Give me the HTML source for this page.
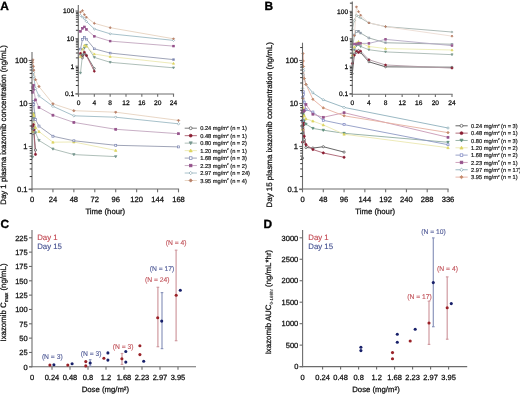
<!DOCTYPE html>
<html><head><meta charset="utf-8"><style>
html,body{margin:0;padding:0;background:#fff;width:520px;height:394px;overflow:hidden}
svg{display:block;filter:blur(0.5px)}
text{font-family:"Liberation Sans", sans-serif;text-rendering:geometricPrecision}
</style></head><body>
<svg width="520" height="394" viewBox="0 0 520 394">
<rect width="520" height="394" fill="#fff"/>
<text x="0.3" y="9.6" font-size="11.9" font-weight="bold" fill="#000" stroke="#000" stroke-width="0.35">A</text>
<text x="264.6" y="9.9" font-size="11.9" font-weight="bold" fill="#000" stroke="#000" stroke-width="0.35">B</text>
<text x="0.6" y="228.1" font-size="11.9" font-weight="bold" fill="#000" stroke="#000" stroke-width="0.35">C</text>
<text x="263.6" y="228.1" font-size="11.9" font-weight="bold" fill="#000" stroke="#000" stroke-width="0.35">D</text>
<path d="M32.44 128.44 L32.87 133.60 L33.31 127.15 L33.74 129.30 L35.49 150.07" fill="none" stroke="#707070" stroke-width="0.9" stroke-linejoin="round"/>
<path d="M32.44 126.42 L32.87 129.69 L33.31 124.70 L33.74 129.99 L35.49 154.41" fill="none" stroke="#aa6070" stroke-width="0.9" stroke-linejoin="round"/>
<path d="M32.44 157.25 L32.87 129.30 L33.31 118.12 L33.74 113.78 L35.49 132.78 L38.98 140.44 L52.93 148.99 L73.86 154.58 L115.71 156.60" fill="none" stroke="#a6b8b1" stroke-width="0.9" stroke-linejoin="round"/>
<path d="M32.44 131.45 L32.87 119.84 L33.31 113.82 L33.74 115.54 L35.49 127.49 L38.98 131.54 L52.93 142.20 L73.86 141.99 L115.71 150.41" fill="none" stroke="#ebe8b0" stroke-width="0.9" stroke-linejoin="round"/>
<path d="M32.44 119.84 L32.87 104.79 L33.31 101.35 L33.74 104.36 L35.49 119.41 L38.98 126.08 L52.93 136.22 L73.86 140.78 L115.71 145.30 L178.50 146.89" fill="none" stroke="#959bb0" stroke-width="0.9" stroke-linejoin="round"/>
<path d="M32.44 92.28 L32.87 87.59 L33.31 85.27 L33.74 89.18 L35.49 99.93 L38.98 107.41 L52.93 115.20 L73.86 122.42 L115.71 129.30 L178.50 133.69" fill="none" stroke="#c2a6be" stroke-width="0.9" stroke-linejoin="round"/>
<path d="M32.44 67.38 L32.87 69.96 L33.31 72.54 L33.74 76.84 L35.49 88.45 L38.98 96.02 L52.93 106.29 L73.86 115.80 L115.71 117.22 L178.50 123.80" fill="none" stroke="#9dbac4" stroke-width="0.9" stroke-linejoin="round"/>
<path d="M32.44 62.35 L32.87 59.90 L33.31 66.26 L33.74 70.17 L35.49 79.68 L38.98 86.52 L52.93 103.80 L73.86 110.68 L115.71 112.19 L178.50 120.40" fill="none" stroke="#e6d2c0" stroke-width="0.9" stroke-linejoin="round"/>
<circle cx="32.44" cy="128.44" r="1.10" fill="#fff" stroke="#4a4a4a" stroke-width="0.7"/>
<circle cx="32.87" cy="133.60" r="1.10" fill="#fff" stroke="#4a4a4a" stroke-width="0.7"/>
<circle cx="33.31" cy="127.15" r="1.10" fill="#fff" stroke="#4a4a4a" stroke-width="0.7"/>
<circle cx="33.74" cy="129.30" r="1.10" fill="#fff" stroke="#4a4a4a" stroke-width="0.7"/>
<circle cx="35.49" cy="150.07" r="1.10" fill="#fff" stroke="#4a4a4a" stroke-width="0.7"/>
<circle cx="32.44" cy="126.42" r="1.10" fill="#8a1c30" stroke="#8a1c30" stroke-width="0.7"/>
<circle cx="32.87" cy="129.69" r="1.10" fill="#8a1c30" stroke="#8a1c30" stroke-width="0.7"/>
<circle cx="33.31" cy="124.70" r="1.10" fill="#8a1c30" stroke="#8a1c30" stroke-width="0.7"/>
<circle cx="33.74" cy="129.99" r="1.10" fill="#8a1c30" stroke="#8a1c30" stroke-width="0.7"/>
<circle cx="35.49" cy="154.41" r="1.10" fill="#8a1c30" stroke="#8a1c30" stroke-width="0.7"/>
<path d="M32.44 158.46L33.65 156.28L31.23 156.28Z" fill="#76968e" stroke="#76968e" stroke-width="0.7"/>
<path d="M32.87 130.51L34.08 128.33L31.66 128.33Z" fill="#76968e" stroke="#76968e" stroke-width="0.7"/>
<path d="M33.31 119.33L34.52 117.15L32.10 117.15Z" fill="#76968e" stroke="#76968e" stroke-width="0.7"/>
<path d="M33.74 114.99L34.95 112.81L32.53 112.81Z" fill="#76968e" stroke="#76968e" stroke-width="0.7"/>
<path d="M35.49 133.99L36.70 131.81L34.28 131.81Z" fill="#76968e" stroke="#76968e" stroke-width="0.7"/>
<path d="M38.98 141.65L40.19 139.47L37.77 139.47Z" fill="#76968e" stroke="#76968e" stroke-width="0.7"/>
<path d="M52.93 150.20L54.14 148.03L51.72 148.03Z" fill="#76968e" stroke="#76968e" stroke-width="0.7"/>
<path d="M73.86 155.79L75.07 153.62L72.65 153.62Z" fill="#76968e" stroke="#76968e" stroke-width="0.7"/>
<path d="M115.71 157.81L116.92 155.64L114.50 155.64Z" fill="#76968e" stroke="#76968e" stroke-width="0.7"/>
<path d="M32.44 130.24L33.65 132.42L31.23 132.42Z" fill="#dcd460" stroke="#dcd460" stroke-width="0.7"/>
<path d="M32.87 118.63L34.08 120.81L31.66 120.81Z" fill="#dcd460" stroke="#dcd460" stroke-width="0.7"/>
<path d="M33.31 112.61L34.52 114.79L32.10 114.79Z" fill="#dcd460" stroke="#dcd460" stroke-width="0.7"/>
<path d="M33.74 114.33L34.95 116.51L32.53 116.51Z" fill="#dcd460" stroke="#dcd460" stroke-width="0.7"/>
<path d="M35.49 126.28L36.70 128.46L34.28 128.46Z" fill="#dcd460" stroke="#dcd460" stroke-width="0.7"/>
<path d="M38.98 130.33L40.19 132.50L37.77 132.50Z" fill="#dcd460" stroke="#dcd460" stroke-width="0.7"/>
<path d="M52.93 140.99L54.14 143.17L51.72 143.17Z" fill="#dcd460" stroke="#dcd460" stroke-width="0.7"/>
<path d="M73.86 140.78L75.07 142.95L72.65 142.95Z" fill="#dcd460" stroke="#dcd460" stroke-width="0.7"/>
<path d="M115.71 149.20L116.92 151.38L114.50 151.38Z" fill="#dcd460" stroke="#dcd460" stroke-width="0.7"/>
<rect x="31.45" y="118.85" width="1.98" height="1.98" fill="#fff" stroke="#7a84b0" stroke-width="0.7"/>
<rect x="31.88" y="103.80" width="1.98" height="1.98" fill="#fff" stroke="#7a84b0" stroke-width="0.7"/>
<rect x="32.32" y="100.36" width="1.98" height="1.98" fill="#fff" stroke="#7a84b0" stroke-width="0.7"/>
<rect x="32.75" y="103.37" width="1.98" height="1.98" fill="#fff" stroke="#7a84b0" stroke-width="0.7"/>
<rect x="34.50" y="118.42" width="1.98" height="1.98" fill="#fff" stroke="#7a84b0" stroke-width="0.7"/>
<rect x="37.99" y="125.09" width="1.98" height="1.98" fill="#fff" stroke="#7a84b0" stroke-width="0.7"/>
<rect x="51.94" y="135.23" width="1.98" height="1.98" fill="#fff" stroke="#7a84b0" stroke-width="0.7"/>
<rect x="72.87" y="139.79" width="1.98" height="1.98" fill="#fff" stroke="#7a84b0" stroke-width="0.7"/>
<rect x="114.72" y="144.31" width="1.98" height="1.98" fill="#fff" stroke="#7a84b0" stroke-width="0.7"/>
<rect x="177.51" y="145.90" width="1.98" height="1.98" fill="#fff" stroke="#7a84b0" stroke-width="0.7"/>
<rect x="31.45" y="91.29" width="1.98" height="1.98" fill="#94508a" stroke="#94508a" stroke-width="0.7"/>
<rect x="31.88" y="86.60" width="1.98" height="1.98" fill="#94508a" stroke="#94508a" stroke-width="0.7"/>
<rect x="32.32" y="84.28" width="1.98" height="1.98" fill="#94508a" stroke="#94508a" stroke-width="0.7"/>
<rect x="32.75" y="88.19" width="1.98" height="1.98" fill="#94508a" stroke="#94508a" stroke-width="0.7"/>
<rect x="34.50" y="98.94" width="1.98" height="1.98" fill="#94508a" stroke="#94508a" stroke-width="0.7"/>
<rect x="37.99" y="106.42" width="1.98" height="1.98" fill="#94508a" stroke="#94508a" stroke-width="0.7"/>
<rect x="51.94" y="114.21" width="1.98" height="1.98" fill="#94508a" stroke="#94508a" stroke-width="0.7"/>
<rect x="72.87" y="121.43" width="1.98" height="1.98" fill="#94508a" stroke="#94508a" stroke-width="0.7"/>
<rect x="114.72" y="128.31" width="1.98" height="1.98" fill="#94508a" stroke="#94508a" stroke-width="0.7"/>
<rect x="177.51" y="132.70" width="1.98" height="1.98" fill="#94508a" stroke="#94508a" stroke-width="0.7"/>
<path d="M32.44 66.11L33.70 67.38L32.44 68.64L31.17 67.38Z" fill="#fff" stroke="#88a6b0" stroke-width="0.7"/>
<path d="M32.87 68.69L34.14 69.96L32.87 71.22L31.61 69.96Z" fill="#fff" stroke="#88a6b0" stroke-width="0.7"/>
<path d="M33.31 71.28L34.57 72.54L33.31 73.81L32.04 72.54Z" fill="#fff" stroke="#88a6b0" stroke-width="0.7"/>
<path d="M33.74 75.57L35.01 76.84L33.74 78.10L32.48 76.84Z" fill="#fff" stroke="#88a6b0" stroke-width="0.7"/>
<path d="M35.49 87.18L36.75 88.45L35.49 89.71L34.22 88.45Z" fill="#fff" stroke="#88a6b0" stroke-width="0.7"/>
<path d="M38.98 94.75L40.24 96.02L38.98 97.28L37.71 96.02Z" fill="#fff" stroke="#88a6b0" stroke-width="0.7"/>
<path d="M52.93 105.03L54.19 106.29L52.93 107.56L51.66 106.29Z" fill="#fff" stroke="#88a6b0" stroke-width="0.7"/>
<path d="M73.86 114.53L75.12 115.80L73.86 117.06L72.59 115.80Z" fill="#fff" stroke="#88a6b0" stroke-width="0.7"/>
<path d="M115.71 115.95L116.98 117.22L115.71 118.48L114.45 117.22Z" fill="#fff" stroke="#88a6b0" stroke-width="0.7"/>
<path d="M178.50 122.53L179.76 123.80L178.50 125.06L177.24 123.80Z" fill="#fff" stroke="#88a6b0" stroke-width="0.7"/>
<path d="M32.44 61.08L33.70 62.35L32.44 63.61L31.17 62.35Z" fill="#b88068" stroke="#b88068" stroke-width="0.7"/>
<path d="M32.87 58.63L34.14 59.90L32.87 61.16L31.61 59.90Z" fill="#b88068" stroke="#b88068" stroke-width="0.7"/>
<path d="M33.31 65.00L34.57 66.26L33.31 67.53L32.04 66.26Z" fill="#b88068" stroke="#b88068" stroke-width="0.7"/>
<path d="M33.74 68.91L35.01 70.17L33.74 71.44L32.48 70.17Z" fill="#b88068" stroke="#b88068" stroke-width="0.7"/>
<path d="M35.49 78.41L36.75 79.68L35.49 80.94L34.22 79.68Z" fill="#b88068" stroke="#b88068" stroke-width="0.7"/>
<path d="M38.98 85.25L40.24 86.52L38.98 87.78L37.71 86.52Z" fill="#b88068" stroke="#b88068" stroke-width="0.7"/>
<path d="M52.93 102.54L54.19 103.80L52.93 105.07L51.66 103.80Z" fill="#b88068" stroke="#b88068" stroke-width="0.7"/>
<path d="M73.86 109.42L75.12 110.68L73.86 111.95L72.59 110.68Z" fill="#b88068" stroke="#b88068" stroke-width="0.7"/>
<path d="M115.71 110.92L116.98 112.19L115.71 113.45L114.45 112.19Z" fill="#b88068" stroke="#b88068" stroke-width="0.7"/>
<path d="M178.50 119.13L179.76 120.40L178.50 121.66L177.24 120.40Z" fill="#b88068" stroke="#b88068" stroke-width="0.7"/>
<line x1="32.00" y1="52.00" x2="32.00" y2="189.55" stroke="#6c6c6c" stroke-width="1.1"/>
<line x1="28.70" y1="189.00" x2="179.10" y2="189.00" stroke="#6c6c6c" stroke-width="1.1"/>
<line x1="28.70" y1="189.50" x2="32.00" y2="189.50" stroke="#6c6c6c" stroke-width="1.1"/>
<text x="27.60" y="192.24" font-size="7.6" text-anchor="end" fill="#111" font-weight="normal" stroke="#111" stroke-width="0.26" >0.1</text>
<line x1="29.70" y1="176.56" x2="32.00" y2="176.56" stroke="#3a3a3a" stroke-width="1.0"/>
<line x1="29.70" y1="168.98" x2="32.00" y2="168.98" stroke="#3a3a3a" stroke-width="1.0"/>
<line x1="29.70" y1="163.61" x2="32.00" y2="163.61" stroke="#3a3a3a" stroke-width="1.0"/>
<line x1="29.70" y1="159.44" x2="32.00" y2="159.44" stroke="#3a3a3a" stroke-width="1.0"/>
<line x1="29.70" y1="156.04" x2="32.00" y2="156.04" stroke="#3a3a3a" stroke-width="1.0"/>
<line x1="29.70" y1="153.16" x2="32.00" y2="153.16" stroke="#3a3a3a" stroke-width="1.0"/>
<line x1="29.70" y1="150.67" x2="32.00" y2="150.67" stroke="#3a3a3a" stroke-width="1.0"/>
<line x1="29.70" y1="148.47" x2="32.00" y2="148.47" stroke="#3a3a3a" stroke-width="1.0"/>
<line x1="28.70" y1="146.50" x2="32.00" y2="146.50" stroke="#6c6c6c" stroke-width="1.1"/>
<text x="27.60" y="149.24" font-size="7.6" text-anchor="end" fill="#111" font-weight="normal" stroke="#111" stroke-width="0.26" >1</text>
<line x1="29.70" y1="133.56" x2="32.00" y2="133.56" stroke="#3a3a3a" stroke-width="1.0"/>
<line x1="29.70" y1="125.98" x2="32.00" y2="125.98" stroke="#3a3a3a" stroke-width="1.0"/>
<line x1="29.70" y1="120.61" x2="32.00" y2="120.61" stroke="#3a3a3a" stroke-width="1.0"/>
<line x1="29.70" y1="116.44" x2="32.00" y2="116.44" stroke="#3a3a3a" stroke-width="1.0"/>
<line x1="29.70" y1="113.04" x2="32.00" y2="113.04" stroke="#3a3a3a" stroke-width="1.0"/>
<line x1="29.70" y1="110.16" x2="32.00" y2="110.16" stroke="#3a3a3a" stroke-width="1.0"/>
<line x1="29.70" y1="107.67" x2="32.00" y2="107.67" stroke="#3a3a3a" stroke-width="1.0"/>
<line x1="29.70" y1="105.47" x2="32.00" y2="105.47" stroke="#3a3a3a" stroke-width="1.0"/>
<line x1="28.70" y1="103.50" x2="32.00" y2="103.50" stroke="#6c6c6c" stroke-width="1.1"/>
<text x="27.60" y="106.24" font-size="7.6" text-anchor="end" fill="#111" font-weight="normal" stroke="#111" stroke-width="0.26" >10</text>
<line x1="29.70" y1="90.56" x2="32.00" y2="90.56" stroke="#3a3a3a" stroke-width="1.0"/>
<line x1="29.70" y1="82.98" x2="32.00" y2="82.98" stroke="#3a3a3a" stroke-width="1.0"/>
<line x1="29.70" y1="77.61" x2="32.00" y2="77.61" stroke="#3a3a3a" stroke-width="1.0"/>
<line x1="29.70" y1="73.44" x2="32.00" y2="73.44" stroke="#3a3a3a" stroke-width="1.0"/>
<line x1="29.70" y1="70.04" x2="32.00" y2="70.04" stroke="#3a3a3a" stroke-width="1.0"/>
<line x1="29.70" y1="67.16" x2="32.00" y2="67.16" stroke="#3a3a3a" stroke-width="1.0"/>
<line x1="29.70" y1="64.67" x2="32.00" y2="64.67" stroke="#3a3a3a" stroke-width="1.0"/>
<line x1="29.70" y1="62.47" x2="32.00" y2="62.47" stroke="#3a3a3a" stroke-width="1.0"/>
<line x1="28.70" y1="60.50" x2="32.00" y2="60.50" stroke="#6c6c6c" stroke-width="1.1"/>
<text x="27.60" y="63.24" font-size="7.6" text-anchor="end" fill="#111" font-weight="normal" stroke="#111" stroke-width="0.26" >100</text>
<line x1="32.00" y1="189.00" x2="32.00" y2="192.30" stroke="#6c6c6c" stroke-width="1.1"/>
<text x="32.00" y="201.70" font-size="7.6" text-anchor="middle" fill="#111" font-weight="normal" stroke="#111" stroke-width="0.26" >0</text>
<line x1="52.93" y1="189.00" x2="52.93" y2="192.30" stroke="#6c6c6c" stroke-width="1.1"/>
<text x="52.93" y="201.70" font-size="7.6" text-anchor="middle" fill="#111" font-weight="normal" stroke="#111" stroke-width="0.26" >24</text>
<line x1="73.86" y1="189.00" x2="73.86" y2="192.30" stroke="#6c6c6c" stroke-width="1.1"/>
<text x="73.86" y="201.70" font-size="7.6" text-anchor="middle" fill="#111" font-weight="normal" stroke="#111" stroke-width="0.26" >48</text>
<line x1="94.79" y1="189.00" x2="94.79" y2="192.30" stroke="#6c6c6c" stroke-width="1.1"/>
<text x="94.79" y="201.70" font-size="7.6" text-anchor="middle" fill="#111" font-weight="normal" stroke="#111" stroke-width="0.26" >72</text>
<line x1="115.71" y1="189.00" x2="115.71" y2="192.30" stroke="#6c6c6c" stroke-width="1.1"/>
<text x="115.71" y="201.70" font-size="7.6" text-anchor="middle" fill="#111" font-weight="normal" stroke="#111" stroke-width="0.26" >96</text>
<line x1="136.64" y1="189.00" x2="136.64" y2="192.30" stroke="#6c6c6c" stroke-width="1.1"/>
<text x="136.64" y="201.70" font-size="7.6" text-anchor="middle" fill="#111" font-weight="normal" stroke="#111" stroke-width="0.26" >120</text>
<line x1="157.57" y1="189.00" x2="157.57" y2="192.30" stroke="#6c6c6c" stroke-width="1.1"/>
<text x="157.57" y="201.70" font-size="7.6" text-anchor="middle" fill="#111" font-weight="normal" stroke="#111" stroke-width="0.26" >144</text>
<line x1="178.50" y1="189.00" x2="178.50" y2="192.30" stroke="#6c6c6c" stroke-width="1.1"/>
<text x="178.50" y="201.70" font-size="7.6" text-anchor="middle" fill="#111" font-weight="normal" stroke="#111" stroke-width="0.26" >168</text>
<text x="105.30" y="214.00" font-size="7.75" text-anchor="middle" fill="#111" font-weight="normal" stroke="#111" stroke-width="0.26" >Time (hour)</text>
<text x="0.00" y="0.00" font-size="7.85" text-anchor="middle" fill="#111" font-weight="normal" stroke="#111" stroke-width="0.26" transform="translate(6.2,125) rotate(-90)">Day 1 plasma ixazomib concentration (ng/mL)</text>
<rect x="79" y="4" width="96" height="89.5" fill="#fff"/>
<path d="M80.48 54.61 L82.46 57.92 L84.44 53.78 L86.42 55.16 L94.33 68.49" fill="none" stroke="#707070" stroke-width="0.9" stroke-linejoin="round"/>
<path d="M80.48 53.31 L82.46 55.41 L84.44 52.21 L86.42 55.60 L94.33 71.28" fill="none" stroke="#aa6070" stroke-width="0.9" stroke-linejoin="round"/>
<path d="M80.48 73.10 L82.46 55.16 L84.44 47.98 L86.42 45.20 L94.33 57.40 L110.17 62.31 L173.50 67.80" fill="none" stroke="#a6b8b1" stroke-width="0.9" stroke-linejoin="round"/>
<path d="M80.48 56.54 L82.46 49.09 L84.44 45.22 L86.42 46.33 L94.33 54.00 L110.17 56.60 L173.50 63.44" fill="none" stroke="#ebe8b0" stroke-width="0.9" stroke-linejoin="round"/>
<path d="M80.48 49.09 L82.46 39.43 L84.44 37.22 L86.42 39.15 L94.33 48.81 L110.17 53.09 L173.50 59.60" fill="none" stroke="#959bb0" stroke-width="0.9" stroke-linejoin="round"/>
<path d="M80.48 31.40 L82.46 28.39 L84.44 26.90 L86.42 29.41 L94.33 36.31 L110.17 41.11 L173.50 46.11" fill="none" stroke="#c2a6be" stroke-width="0.9" stroke-linejoin="round"/>
<path d="M80.48 15.42 L82.46 17.07 L84.44 18.73 L86.42 21.49 L94.33 28.94 L110.17 33.80 L173.50 40.39" fill="none" stroke="#9dbac4" stroke-width="0.9" stroke-linejoin="round"/>
<path d="M80.48 12.19 L82.46 10.61 L84.44 14.70 L86.42 17.21 L94.33 23.31 L110.17 27.70 L173.50 38.79" fill="none" stroke="#e6d2c0" stroke-width="0.9" stroke-linejoin="round"/>
<circle cx="80.48" cy="54.61" r="0.95" fill="#fff" stroke="#4a4a4a" stroke-width="0.7"/>
<circle cx="82.46" cy="57.92" r="0.95" fill="#fff" stroke="#4a4a4a" stroke-width="0.7"/>
<circle cx="84.44" cy="53.78" r="0.95" fill="#fff" stroke="#4a4a4a" stroke-width="0.7"/>
<circle cx="86.42" cy="55.16" r="0.95" fill="#fff" stroke="#4a4a4a" stroke-width="0.7"/>
<circle cx="94.33" cy="68.49" r="0.95" fill="#fff" stroke="#4a4a4a" stroke-width="0.7"/>
<circle cx="80.48" cy="53.31" r="0.95" fill="#8a1c30" stroke="#8a1c30" stroke-width="0.7"/>
<circle cx="82.46" cy="55.41" r="0.95" fill="#8a1c30" stroke="#8a1c30" stroke-width="0.7"/>
<circle cx="84.44" cy="52.21" r="0.95" fill="#8a1c30" stroke="#8a1c30" stroke-width="0.7"/>
<circle cx="86.42" cy="55.60" r="0.95" fill="#8a1c30" stroke="#8a1c30" stroke-width="0.7"/>
<circle cx="94.33" cy="71.28" r="0.95" fill="#8a1c30" stroke="#8a1c30" stroke-width="0.7"/>
<path d="M80.48 74.14L81.52 72.26L79.43 72.26Z" fill="#76968e" stroke="#76968e" stroke-width="0.7"/>
<path d="M82.46 56.21L83.50 54.32L81.41 54.32Z" fill="#76968e" stroke="#76968e" stroke-width="0.7"/>
<path d="M84.44 49.03L85.48 47.15L83.39 47.15Z" fill="#76968e" stroke="#76968e" stroke-width="0.7"/>
<path d="M86.42 46.24L87.46 44.36L85.37 44.36Z" fill="#76968e" stroke="#76968e" stroke-width="0.7"/>
<path d="M94.33 58.44L95.38 56.56L93.29 56.56Z" fill="#76968e" stroke="#76968e" stroke-width="0.7"/>
<path d="M110.17 63.35L111.21 61.47L109.12 61.47Z" fill="#76968e" stroke="#76968e" stroke-width="0.7"/>
<path d="M173.50 68.85L174.54 66.96L172.46 66.96Z" fill="#76968e" stroke="#76968e" stroke-width="0.7"/>
<path d="M80.48 55.49L81.52 57.38L79.43 57.38Z" fill="#dcd460" stroke="#dcd460" stroke-width="0.7"/>
<path d="M82.46 48.04L83.50 49.92L81.41 49.92Z" fill="#dcd460" stroke="#dcd460" stroke-width="0.7"/>
<path d="M84.44 44.18L85.48 46.06L83.39 46.06Z" fill="#dcd460" stroke="#dcd460" stroke-width="0.7"/>
<path d="M86.42 45.28L87.46 47.16L85.37 47.16Z" fill="#dcd460" stroke="#dcd460" stroke-width="0.7"/>
<path d="M94.33 52.96L95.38 54.84L93.29 54.84Z" fill="#dcd460" stroke="#dcd460" stroke-width="0.7"/>
<path d="M110.17 55.55L111.21 57.43L109.12 57.43Z" fill="#dcd460" stroke="#dcd460" stroke-width="0.7"/>
<path d="M173.50 62.39L174.54 64.28L172.46 64.28Z" fill="#dcd460" stroke="#dcd460" stroke-width="0.7"/>
<rect x="79.62" y="48.23" width="1.71" height="1.71" fill="#fff" stroke="#7a84b0" stroke-width="0.7"/>
<rect x="81.60" y="38.57" width="1.71" height="1.71" fill="#fff" stroke="#7a84b0" stroke-width="0.7"/>
<rect x="83.58" y="36.37" width="1.71" height="1.71" fill="#fff" stroke="#7a84b0" stroke-width="0.7"/>
<rect x="85.56" y="38.30" width="1.71" height="1.71" fill="#fff" stroke="#7a84b0" stroke-width="0.7"/>
<rect x="93.48" y="47.96" width="1.71" height="1.71" fill="#fff" stroke="#7a84b0" stroke-width="0.7"/>
<rect x="109.31" y="52.23" width="1.71" height="1.71" fill="#fff" stroke="#7a84b0" stroke-width="0.7"/>
<rect x="172.65" y="58.75" width="1.71" height="1.71" fill="#fff" stroke="#7a84b0" stroke-width="0.7"/>
<rect x="79.62" y="30.54" width="1.71" height="1.71" fill="#94508a" stroke="#94508a" stroke-width="0.7"/>
<rect x="81.60" y="27.53" width="1.71" height="1.71" fill="#94508a" stroke="#94508a" stroke-width="0.7"/>
<rect x="83.58" y="26.04" width="1.71" height="1.71" fill="#94508a" stroke="#94508a" stroke-width="0.7"/>
<rect x="85.56" y="28.55" width="1.71" height="1.71" fill="#94508a" stroke="#94508a" stroke-width="0.7"/>
<rect x="93.48" y="35.45" width="1.71" height="1.71" fill="#94508a" stroke="#94508a" stroke-width="0.7"/>
<rect x="109.31" y="40.26" width="1.71" height="1.71" fill="#94508a" stroke="#94508a" stroke-width="0.7"/>
<rect x="172.65" y="45.25" width="1.71" height="1.71" fill="#94508a" stroke="#94508a" stroke-width="0.7"/>
<path d="M80.48 14.32L81.57 15.42L80.48 16.51L79.39 15.42Z" fill="#fff" stroke="#88a6b0" stroke-width="0.7"/>
<path d="M82.46 15.98L83.55 17.07L82.46 18.16L81.37 17.07Z" fill="#fff" stroke="#88a6b0" stroke-width="0.7"/>
<path d="M84.44 17.64L85.53 18.73L84.44 19.82L83.34 18.73Z" fill="#fff" stroke="#88a6b0" stroke-width="0.7"/>
<path d="M86.42 20.40L87.51 21.49L86.42 22.58L85.32 21.49Z" fill="#fff" stroke="#88a6b0" stroke-width="0.7"/>
<path d="M94.33 27.85L95.43 28.94L94.33 30.03L93.24 28.94Z" fill="#fff" stroke="#88a6b0" stroke-width="0.7"/>
<path d="M110.17 32.71L111.26 33.80L110.17 34.89L109.07 33.80Z" fill="#fff" stroke="#88a6b0" stroke-width="0.7"/>
<path d="M173.50 39.30L174.59 40.39L173.50 41.49L172.41 40.39Z" fill="#fff" stroke="#88a6b0" stroke-width="0.7"/>
<path d="M80.48 11.09L81.57 12.19L80.48 13.28L79.39 12.19Z" fill="#b88068" stroke="#b88068" stroke-width="0.7"/>
<path d="M82.46 9.52L83.55 10.61L82.46 11.71L81.37 10.61Z" fill="#b88068" stroke="#b88068" stroke-width="0.7"/>
<path d="M84.44 13.61L85.53 14.70L84.44 15.79L83.34 14.70Z" fill="#b88068" stroke="#b88068" stroke-width="0.7"/>
<path d="M86.42 16.12L87.51 17.21L86.42 18.30L85.32 17.21Z" fill="#b88068" stroke="#b88068" stroke-width="0.7"/>
<path d="M94.33 22.22L95.43 23.31L94.33 24.40L93.24 23.31Z" fill="#b88068" stroke="#b88068" stroke-width="0.7"/>
<path d="M110.17 26.61L111.26 27.70L110.17 28.79L109.07 27.70Z" fill="#b88068" stroke="#b88068" stroke-width="0.7"/>
<path d="M173.50 37.70L174.59 38.79L173.50 39.89L172.41 38.79Z" fill="#b88068" stroke="#b88068" stroke-width="0.7"/>
<line x1="78.30" y1="5.00" x2="78.30" y2="94.55" stroke="#6c6c6c" stroke-width="1.1"/>
<line x1="75.50" y1="94.00" x2="174.10" y2="94.00" stroke="#6c6c6c" stroke-width="1.1"/>
<line x1="75.50" y1="93.80" x2="78.30" y2="93.80" stroke="#6c6c6c" stroke-width="1.1"/>
<text x="74.10" y="96.18" font-size="6.6" text-anchor="end" fill="#111" font-weight="normal" stroke="#111" stroke-width="0.26" >0.1</text>
<line x1="75.90" y1="85.49" x2="78.30" y2="85.49" stroke="#3a3a3a" stroke-width="1.0"/>
<line x1="75.90" y1="80.63" x2="78.30" y2="80.63" stroke="#3a3a3a" stroke-width="1.0"/>
<line x1="75.90" y1="77.18" x2="78.30" y2="77.18" stroke="#3a3a3a" stroke-width="1.0"/>
<line x1="75.90" y1="74.51" x2="78.30" y2="74.51" stroke="#3a3a3a" stroke-width="1.0"/>
<line x1="75.90" y1="72.32" x2="78.30" y2="72.32" stroke="#3a3a3a" stroke-width="1.0"/>
<line x1="75.90" y1="70.48" x2="78.30" y2="70.48" stroke="#3a3a3a" stroke-width="1.0"/>
<line x1="75.90" y1="68.87" x2="78.30" y2="68.87" stroke="#3a3a3a" stroke-width="1.0"/>
<line x1="75.90" y1="67.46" x2="78.30" y2="67.46" stroke="#3a3a3a" stroke-width="1.0"/>
<line x1="75.50" y1="66.20" x2="78.30" y2="66.20" stroke="#6c6c6c" stroke-width="1.1"/>
<text x="74.10" y="68.58" font-size="6.6" text-anchor="end" fill="#111" font-weight="normal" stroke="#111" stroke-width="0.26" >1</text>
<line x1="75.90" y1="57.89" x2="78.30" y2="57.89" stroke="#3a3a3a" stroke-width="1.0"/>
<line x1="75.90" y1="53.03" x2="78.30" y2="53.03" stroke="#3a3a3a" stroke-width="1.0"/>
<line x1="75.90" y1="49.58" x2="78.30" y2="49.58" stroke="#3a3a3a" stroke-width="1.0"/>
<line x1="75.90" y1="46.91" x2="78.30" y2="46.91" stroke="#3a3a3a" stroke-width="1.0"/>
<line x1="75.90" y1="44.72" x2="78.30" y2="44.72" stroke="#3a3a3a" stroke-width="1.0"/>
<line x1="75.90" y1="42.88" x2="78.30" y2="42.88" stroke="#3a3a3a" stroke-width="1.0"/>
<line x1="75.90" y1="41.27" x2="78.30" y2="41.27" stroke="#3a3a3a" stroke-width="1.0"/>
<line x1="75.90" y1="39.86" x2="78.30" y2="39.86" stroke="#3a3a3a" stroke-width="1.0"/>
<line x1="75.50" y1="38.60" x2="78.30" y2="38.60" stroke="#6c6c6c" stroke-width="1.1"/>
<text x="74.10" y="40.98" font-size="6.6" text-anchor="end" fill="#111" font-weight="normal" stroke="#111" stroke-width="0.26" >10</text>
<line x1="75.90" y1="30.29" x2="78.30" y2="30.29" stroke="#3a3a3a" stroke-width="1.0"/>
<line x1="75.90" y1="25.43" x2="78.30" y2="25.43" stroke="#3a3a3a" stroke-width="1.0"/>
<line x1="75.90" y1="21.98" x2="78.30" y2="21.98" stroke="#3a3a3a" stroke-width="1.0"/>
<line x1="75.90" y1="19.31" x2="78.30" y2="19.31" stroke="#3a3a3a" stroke-width="1.0"/>
<line x1="75.90" y1="17.12" x2="78.30" y2="17.12" stroke="#3a3a3a" stroke-width="1.0"/>
<line x1="75.90" y1="15.28" x2="78.30" y2="15.28" stroke="#3a3a3a" stroke-width="1.0"/>
<line x1="75.90" y1="13.67" x2="78.30" y2="13.67" stroke="#3a3a3a" stroke-width="1.0"/>
<line x1="75.90" y1="12.26" x2="78.30" y2="12.26" stroke="#3a3a3a" stroke-width="1.0"/>
<line x1="75.50" y1="11.00" x2="78.30" y2="11.00" stroke="#6c6c6c" stroke-width="1.1"/>
<text x="74.10" y="13.38" font-size="6.6" text-anchor="end" fill="#111" font-weight="normal" stroke="#111" stroke-width="0.26" >100</text>
<line x1="78.50" y1="94.00" x2="78.50" y2="96.80" stroke="#6c6c6c" stroke-width="1.1"/>
<text x="78.50" y="104.90" font-size="6.6" text-anchor="middle" fill="#111" font-weight="normal" stroke="#111" stroke-width="0.26" >0</text>
<line x1="94.33" y1="94.00" x2="94.33" y2="96.80" stroke="#6c6c6c" stroke-width="1.1"/>
<text x="94.33" y="104.90" font-size="6.6" text-anchor="middle" fill="#111" font-weight="normal" stroke="#111" stroke-width="0.26" >4</text>
<line x1="110.17" y1="94.00" x2="110.17" y2="96.80" stroke="#6c6c6c" stroke-width="1.1"/>
<text x="110.17" y="104.90" font-size="6.6" text-anchor="middle" fill="#111" font-weight="normal" stroke="#111" stroke-width="0.26" >8</text>
<line x1="126.00" y1="94.00" x2="126.00" y2="96.80" stroke="#6c6c6c" stroke-width="1.1"/>
<text x="126.00" y="104.90" font-size="6.6" text-anchor="middle" fill="#111" font-weight="normal" stroke="#111" stroke-width="0.26" >12</text>
<line x1="141.83" y1="94.00" x2="141.83" y2="96.80" stroke="#6c6c6c" stroke-width="1.1"/>
<text x="141.83" y="104.90" font-size="6.6" text-anchor="middle" fill="#111" font-weight="normal" stroke="#111" stroke-width="0.26" >16</text>
<line x1="157.67" y1="94.00" x2="157.67" y2="96.80" stroke="#6c6c6c" stroke-width="1.1"/>
<text x="157.67" y="104.90" font-size="6.6" text-anchor="middle" fill="#111" font-weight="normal" stroke="#111" stroke-width="0.26" >20</text>
<line x1="173.50" y1="94.00" x2="173.50" y2="96.80" stroke="#6c6c6c" stroke-width="1.1"/>
<text x="173.50" y="104.90" font-size="6.6" text-anchor="middle" fill="#111" font-weight="normal" stroke="#111" stroke-width="0.26" >24</text>
<line x1="184.70" y1="128.20" x2="196.90" y2="128.20" stroke="#707070" stroke-width="0.9"/>
<circle cx="190.70" cy="128.20" r="1.45" fill="#fff" stroke="#4a4a4a" stroke-width="0.7"/>
<text x="200.20" y="130.25" font-size="5.7" fill="#222" stroke="#222" stroke-width="0.2">0.24 mg/m<tspan font-size="2.85" dy="-2.17">2</tspan><tspan dy="2.17"> (n = 1)</tspan></text>
<line x1="184.70" y1="135.67" x2="196.90" y2="135.67" stroke="#aa6070" stroke-width="0.9"/>
<circle cx="190.70" cy="135.67" r="1.45" fill="#8a1c30" stroke="#8a1c30" stroke-width="0.7"/>
<text x="200.20" y="137.72" font-size="5.7" fill="#222" stroke="#222" stroke-width="0.2">0.48 mg/m<tspan font-size="2.85" dy="-2.17">2</tspan><tspan dy="2.17"> (n = 1)</tspan></text>
<line x1="184.70" y1="143.14" x2="196.90" y2="143.14" stroke="#a6b8b1" stroke-width="0.9"/>
<path d="M190.70 144.73L192.29 141.86L189.10 141.86Z" fill="#76968e" stroke="#76968e" stroke-width="0.7"/>
<text x="200.20" y="145.19" font-size="5.7" fill="#222" stroke="#222" stroke-width="0.2">0.80 mg/m<tspan font-size="2.85" dy="-2.17">2</tspan><tspan dy="2.17"> (n = 2)</tspan></text>
<line x1="184.70" y1="150.61" x2="196.90" y2="150.61" stroke="#ebe8b0" stroke-width="0.9"/>
<path d="M190.70 149.01L192.29 151.89L189.10 151.89Z" fill="#dcd460" stroke="#dcd460" stroke-width="0.7"/>
<text x="200.20" y="152.66" font-size="5.7" fill="#222" stroke="#222" stroke-width="0.2">1.20 mg/m<tspan font-size="2.85" dy="-2.17">2</tspan><tspan dy="2.17"> (n = 1)</tspan></text>
<line x1="184.70" y1="158.08" x2="196.90" y2="158.08" stroke="#959bb0" stroke-width="0.9"/>
<rect x="189.39" y="156.77" width="2.61" height="2.61" fill="#fff" stroke="#7a84b0" stroke-width="0.7"/>
<text x="200.20" y="160.13" font-size="5.7" fill="#222" stroke="#222" stroke-width="0.2">1.68 mg/m<tspan font-size="2.85" dy="-2.17">2</tspan><tspan dy="2.17"> (n = 3)</tspan></text>
<line x1="184.70" y1="165.55" x2="196.90" y2="165.55" stroke="#c2a6be" stroke-width="0.9"/>
<rect x="189.39" y="164.24" width="2.61" height="2.61" fill="#94508a" stroke="#94508a" stroke-width="0.7"/>
<text x="200.20" y="167.60" font-size="5.7" fill="#222" stroke="#222" stroke-width="0.2">2.23 mg/m<tspan font-size="2.85" dy="-2.17">2</tspan><tspan dy="2.17"> (n = 2)</tspan></text>
<line x1="184.70" y1="173.02" x2="196.90" y2="173.02" stroke="#9dbac4" stroke-width="0.9"/>
<path d="M190.70 171.35L192.37 173.02L190.70 174.69L189.03 173.02Z" fill="#fff" stroke="#88a6b0" stroke-width="0.7"/>
<text x="200.20" y="175.07" font-size="5.7" fill="#222" stroke="#222" stroke-width="0.2">2.97 mg/m<tspan font-size="2.85" dy="-2.17">2</tspan><tspan dy="2.17"> (n = 24)</tspan></text>
<line x1="184.70" y1="180.49" x2="196.90" y2="180.49" stroke="#e6d2c0" stroke-width="0.9"/>
<path d="M190.70 178.82L192.37 180.49L190.70 182.16L189.03 180.49Z" fill="#b88068" stroke="#b88068" stroke-width="0.7"/>
<text x="200.20" y="182.54" font-size="5.7" fill="#222" stroke="#222" stroke-width="0.2">3.95 mg/m<tspan font-size="2.85" dy="-2.17">2</tspan><tspan dy="2.17"> (n = 4)</tspan></text>
<path d="M302.50 158.11 L302.72 127.15 L302.93 125.00 L303.15 121.56 L303.37 125.00 L304.23 139.62 L305.96 147.49 L312.89 148.09 L323.29 146.72 L344.07 152.09" fill="none" stroke="#555555" stroke-width="0.9" stroke-linejoin="round"/>
<path d="M302.50 142.20 L302.72 129.30 L302.93 122.85 L303.15 125.00 L303.37 122.85 L304.23 136.31 L305.96 144.61 L312.89 149.51 L323.29 152.91 L344.07 157.29" fill="none" stroke="#aa6070" stroke-width="0.9" stroke-linejoin="round"/>
<path d="M302.50 133.60 L302.72 120.70 L302.93 114.25 L303.15 112.96 L303.37 115.54 L304.23 120.70 L305.96 124.10 L312.89 128.40 L323.29 130.20 L344.07 133.30 L448.00 142.29" fill="none" stroke="#8eaca0" stroke-width="0.9" stroke-linejoin="round"/>
<path d="M302.50 129.30 L302.72 116.40 L302.93 109.95 L303.15 107.80 L303.37 109.95 L304.23 115.54 L305.96 118.81 L312.89 121.09 L323.29 124.91 L344.07 134.20 L448.00 147.70" fill="none" stroke="#ebe8b0" stroke-width="0.9" stroke-linejoin="round"/>
<path d="M302.50 120.70 L302.72 97.52 L302.93 92.06 L303.15 91.72 L303.37 94.47 L304.23 102.21 L305.96 109.69 L312.89 112.01 L323.29 120.31 L344.07 124.61 L448.00 144.69" fill="none" stroke="#8f9ac4" stroke-width="0.9" stroke-linejoin="round"/>
<path d="M302.72 111.67 L302.93 111.67 L303.15 110.81 L303.37 110.72 L304.23 110.72 L305.96 104.40 L312.89 114.21 L323.29 117.30 L344.07 112.70 L448.00 137.30" fill="none" stroke="#c898b4" stroke-width="0.9" stroke-linejoin="round"/>
<path d="M302.50 88.45 L302.72 74.47 L302.93 66.48 L303.15 68.67 L303.37 70.82 L304.23 78.56 L305.96 84.36 L312.89 92.88 L323.29 99.80 L344.07 107.41 L448.00 128.01" fill="none" stroke="#8fb0bc" stroke-width="0.9" stroke-linejoin="round"/>
<path d="M302.72 98.47 L302.93 53.45 L303.15 60.97 L303.37 66.48 L304.23 78.56 L305.96 84.36 L312.89 99.29 L323.29 107.89 L344.07 115.80 L448.00 132.61" fill="none" stroke="#e6b0a0" stroke-width="0.9" stroke-linejoin="round"/>
<circle cx="302.50" cy="158.11" r="1.10" fill="#fff" stroke="#4a4a4a" stroke-width="0.7"/>
<circle cx="302.72" cy="127.15" r="1.10" fill="#fff" stroke="#4a4a4a" stroke-width="0.7"/>
<circle cx="302.93" cy="125.00" r="1.10" fill="#fff" stroke="#4a4a4a" stroke-width="0.7"/>
<circle cx="303.15" cy="121.56" r="1.10" fill="#fff" stroke="#4a4a4a" stroke-width="0.7"/>
<circle cx="303.37" cy="125.00" r="1.10" fill="#fff" stroke="#4a4a4a" stroke-width="0.7"/>
<circle cx="304.23" cy="139.62" r="1.10" fill="#fff" stroke="#4a4a4a" stroke-width="0.7"/>
<circle cx="305.96" cy="147.49" r="1.10" fill="#fff" stroke="#4a4a4a" stroke-width="0.7"/>
<circle cx="312.89" cy="148.09" r="1.10" fill="#fff" stroke="#4a4a4a" stroke-width="0.7"/>
<circle cx="323.29" cy="146.72" r="1.10" fill="#fff" stroke="#4a4a4a" stroke-width="0.7"/>
<circle cx="344.07" cy="152.09" r="1.10" fill="#fff" stroke="#4a4a4a" stroke-width="0.7"/>
<circle cx="302.50" cy="142.20" r="1.10" fill="#8a1c30" stroke="#8a1c30" stroke-width="0.7"/>
<circle cx="302.72" cy="129.30" r="1.10" fill="#8a1c30" stroke="#8a1c30" stroke-width="0.7"/>
<circle cx="302.93" cy="122.85" r="1.10" fill="#8a1c30" stroke="#8a1c30" stroke-width="0.7"/>
<circle cx="303.15" cy="125.00" r="1.10" fill="#8a1c30" stroke="#8a1c30" stroke-width="0.7"/>
<circle cx="303.37" cy="122.85" r="1.10" fill="#8a1c30" stroke="#8a1c30" stroke-width="0.7"/>
<circle cx="304.23" cy="136.31" r="1.10" fill="#8a1c30" stroke="#8a1c30" stroke-width="0.7"/>
<circle cx="305.96" cy="144.61" r="1.10" fill="#8a1c30" stroke="#8a1c30" stroke-width="0.7"/>
<circle cx="312.89" cy="149.51" r="1.10" fill="#8a1c30" stroke="#8a1c30" stroke-width="0.7"/>
<circle cx="323.29" cy="152.91" r="1.10" fill="#8a1c30" stroke="#8a1c30" stroke-width="0.7"/>
<circle cx="344.07" cy="157.29" r="1.10" fill="#8a1c30" stroke="#8a1c30" stroke-width="0.7"/>
<path d="M302.50 134.81L303.71 132.63L301.29 132.63Z" fill="#5a8c78" stroke="#5a8c78" stroke-width="0.7"/>
<path d="M302.72 121.91L303.93 119.73L301.51 119.73Z" fill="#5a8c78" stroke="#5a8c78" stroke-width="0.7"/>
<path d="M302.93 115.46L304.14 113.28L301.72 113.28Z" fill="#5a8c78" stroke="#5a8c78" stroke-width="0.7"/>
<path d="M303.15 114.17L304.36 111.99L301.94 111.99Z" fill="#5a8c78" stroke="#5a8c78" stroke-width="0.7"/>
<path d="M303.37 116.75L304.58 114.57L302.16 114.57Z" fill="#5a8c78" stroke="#5a8c78" stroke-width="0.7"/>
<path d="M304.23 121.91L305.44 119.73L303.02 119.73Z" fill="#5a8c78" stroke="#5a8c78" stroke-width="0.7"/>
<path d="M305.96 125.31L307.17 123.13L304.75 123.13Z" fill="#5a8c78" stroke="#5a8c78" stroke-width="0.7"/>
<path d="M312.89 129.61L314.10 127.43L311.68 127.43Z" fill="#5a8c78" stroke="#5a8c78" stroke-width="0.7"/>
<path d="M323.29 131.41L324.50 129.24L322.08 129.24Z" fill="#5a8c78" stroke="#5a8c78" stroke-width="0.7"/>
<path d="M344.07 134.51L345.28 132.33L342.86 132.33Z" fill="#5a8c78" stroke="#5a8c78" stroke-width="0.7"/>
<path d="M448.00 143.50L449.21 141.32L446.79 141.32Z" fill="#5a8c78" stroke="#5a8c78" stroke-width="0.7"/>
<path d="M302.50 128.09L303.71 130.27L301.29 130.27Z" fill="#dcd460" stroke="#dcd460" stroke-width="0.7"/>
<path d="M302.72 115.19L303.93 117.37L301.51 117.37Z" fill="#dcd460" stroke="#dcd460" stroke-width="0.7"/>
<path d="M302.93 108.74L304.14 110.92L301.72 110.92Z" fill="#dcd460" stroke="#dcd460" stroke-width="0.7"/>
<path d="M303.15 106.59L304.36 108.77L301.94 108.77Z" fill="#dcd460" stroke="#dcd460" stroke-width="0.7"/>
<path d="M303.37 108.74L304.58 110.92L302.16 110.92Z" fill="#dcd460" stroke="#dcd460" stroke-width="0.7"/>
<path d="M304.23 114.33L305.44 116.51L303.02 116.51Z" fill="#dcd460" stroke="#dcd460" stroke-width="0.7"/>
<path d="M305.96 117.60L307.17 119.78L304.75 119.78Z" fill="#dcd460" stroke="#dcd460" stroke-width="0.7"/>
<path d="M312.89 119.88L314.10 122.06L311.68 122.06Z" fill="#dcd460" stroke="#dcd460" stroke-width="0.7"/>
<path d="M323.29 123.70L324.50 125.88L322.08 125.88Z" fill="#dcd460" stroke="#dcd460" stroke-width="0.7"/>
<path d="M344.07 132.99L345.28 135.17L342.86 135.17Z" fill="#dcd460" stroke="#dcd460" stroke-width="0.7"/>
<path d="M448.00 146.49L449.21 148.67L446.79 148.67Z" fill="#dcd460" stroke="#dcd460" stroke-width="0.7"/>
<rect x="301.51" y="119.71" width="1.98" height="1.98" fill="#fff" stroke="#7f88c4" stroke-width="0.7"/>
<rect x="301.73" y="96.53" width="1.98" height="1.98" fill="#fff" stroke="#7f88c4" stroke-width="0.7"/>
<rect x="301.94" y="91.07" width="1.98" height="1.98" fill="#fff" stroke="#7f88c4" stroke-width="0.7"/>
<rect x="302.16" y="90.73" width="1.98" height="1.98" fill="#fff" stroke="#7f88c4" stroke-width="0.7"/>
<rect x="302.38" y="93.48" width="1.98" height="1.98" fill="#fff" stroke="#7f88c4" stroke-width="0.7"/>
<rect x="303.24" y="101.22" width="1.98" height="1.98" fill="#fff" stroke="#7f88c4" stroke-width="0.7"/>
<rect x="304.97" y="108.70" width="1.98" height="1.98" fill="#fff" stroke="#7f88c4" stroke-width="0.7"/>
<rect x="311.90" y="111.02" width="1.98" height="1.98" fill="#fff" stroke="#7f88c4" stroke-width="0.7"/>
<rect x="322.30" y="119.32" width="1.98" height="1.98" fill="#fff" stroke="#7f88c4" stroke-width="0.7"/>
<rect x="343.08" y="123.62" width="1.98" height="1.98" fill="#fff" stroke="#7f88c4" stroke-width="0.7"/>
<rect x="447.01" y="143.70" width="1.98" height="1.98" fill="#fff" stroke="#7f88c4" stroke-width="0.7"/>
<rect x="301.73" y="110.68" width="1.98" height="1.98" fill="#94508a" stroke="#94508a" stroke-width="0.7"/>
<rect x="301.94" y="110.68" width="1.98" height="1.98" fill="#94508a" stroke="#94508a" stroke-width="0.7"/>
<rect x="302.16" y="109.82" width="1.98" height="1.98" fill="#94508a" stroke="#94508a" stroke-width="0.7"/>
<rect x="302.38" y="109.73" width="1.98" height="1.98" fill="#94508a" stroke="#94508a" stroke-width="0.7"/>
<rect x="303.24" y="109.73" width="1.98" height="1.98" fill="#94508a" stroke="#94508a" stroke-width="0.7"/>
<rect x="304.97" y="103.41" width="1.98" height="1.98" fill="#94508a" stroke="#94508a" stroke-width="0.7"/>
<rect x="311.90" y="113.22" width="1.98" height="1.98" fill="#94508a" stroke="#94508a" stroke-width="0.7"/>
<rect x="322.30" y="116.31" width="1.98" height="1.98" fill="#94508a" stroke="#94508a" stroke-width="0.7"/>
<rect x="343.08" y="111.71" width="1.98" height="1.98" fill="#94508a" stroke="#94508a" stroke-width="0.7"/>
<rect x="447.01" y="136.31" width="1.98" height="1.98" fill="#94508a" stroke="#94508a" stroke-width="0.7"/>
<path d="M302.50 87.18L303.76 88.45L302.50 89.71L301.24 88.45Z" fill="#fff" stroke="#7aa0ac" stroke-width="0.7"/>
<path d="M302.72 73.21L303.98 74.47L302.72 75.74L301.45 74.47Z" fill="#fff" stroke="#7aa0ac" stroke-width="0.7"/>
<path d="M302.93 65.21L304.20 66.48L302.93 67.74L301.67 66.48Z" fill="#fff" stroke="#7aa0ac" stroke-width="0.7"/>
<path d="M303.15 67.41L304.41 68.67L303.15 69.94L301.88 68.67Z" fill="#fff" stroke="#7aa0ac" stroke-width="0.7"/>
<path d="M303.37 69.55L304.63 70.82L303.37 72.08L302.10 70.82Z" fill="#fff" stroke="#7aa0ac" stroke-width="0.7"/>
<path d="M304.23 77.30L305.50 78.56L304.23 79.83L302.97 78.56Z" fill="#fff" stroke="#7aa0ac" stroke-width="0.7"/>
<path d="M305.96 83.10L307.23 84.36L305.96 85.63L304.70 84.36Z" fill="#fff" stroke="#7aa0ac" stroke-width="0.7"/>
<path d="M312.89 91.61L314.16 92.88L312.89 94.14L311.63 92.88Z" fill="#fff" stroke="#7aa0ac" stroke-width="0.7"/>
<path d="M323.29 98.54L324.55 99.80L323.29 101.07L322.02 99.80Z" fill="#fff" stroke="#7aa0ac" stroke-width="0.7"/>
<path d="M344.07 106.15L345.34 107.41L344.07 108.68L342.81 107.41Z" fill="#fff" stroke="#7aa0ac" stroke-width="0.7"/>
<path d="M448.00 126.74L449.26 128.01L448.00 129.27L446.74 128.01Z" fill="#fff" stroke="#7aa0ac" stroke-width="0.7"/>
<path d="M302.72 97.20L303.98 98.47L302.72 99.73L301.45 98.47Z" fill="#c48a6c" stroke="#c48a6c" stroke-width="0.7"/>
<path d="M302.93 52.18L304.20 53.45L302.93 54.71L301.67 53.45Z" fill="#c48a6c" stroke="#c48a6c" stroke-width="0.7"/>
<path d="M303.15 59.71L304.41 60.97L303.15 62.24L301.88 60.97Z" fill="#c48a6c" stroke="#c48a6c" stroke-width="0.7"/>
<path d="M303.37 65.21L304.63 66.48L303.37 67.74L302.10 66.48Z" fill="#c48a6c" stroke="#c48a6c" stroke-width="0.7"/>
<path d="M304.23 77.30L305.50 78.56L304.23 79.83L302.97 78.56Z" fill="#c48a6c" stroke="#c48a6c" stroke-width="0.7"/>
<path d="M305.96 83.10L307.23 84.36L305.96 85.63L304.70 84.36Z" fill="#c48a6c" stroke="#c48a6c" stroke-width="0.7"/>
<path d="M312.89 98.02L314.16 99.29L312.89 100.55L311.63 99.29Z" fill="#c48a6c" stroke="#c48a6c" stroke-width="0.7"/>
<path d="M323.29 106.62L324.55 107.89L323.29 109.15L322.02 107.89Z" fill="#c48a6c" stroke="#c48a6c" stroke-width="0.7"/>
<path d="M344.07 114.53L345.34 115.80L344.07 117.06L342.81 115.80Z" fill="#c48a6c" stroke="#c48a6c" stroke-width="0.7"/>
<path d="M448.00 131.35L449.26 132.61L448.00 133.88L446.74 132.61Z" fill="#c48a6c" stroke="#c48a6c" stroke-width="0.7"/>
<line x1="302.50" y1="42.70" x2="302.50" y2="189.55" stroke="#6c6c6c" stroke-width="1.1"/>
<line x1="299.20" y1="189.00" x2="448.60" y2="189.00" stroke="#6c6c6c" stroke-width="1.1"/>
<line x1="299.20" y1="189.50" x2="302.50" y2="189.50" stroke="#6c6c6c" stroke-width="1.1"/>
<text x="298.10" y="192.24" font-size="7.6" text-anchor="end" fill="#111" font-weight="normal" stroke="#111" stroke-width="0.26" >0.1</text>
<line x1="300.20" y1="176.56" x2="302.50" y2="176.56" stroke="#3a3a3a" stroke-width="1.0"/>
<line x1="300.20" y1="168.98" x2="302.50" y2="168.98" stroke="#3a3a3a" stroke-width="1.0"/>
<line x1="300.20" y1="163.61" x2="302.50" y2="163.61" stroke="#3a3a3a" stroke-width="1.0"/>
<line x1="300.20" y1="159.44" x2="302.50" y2="159.44" stroke="#3a3a3a" stroke-width="1.0"/>
<line x1="300.20" y1="156.04" x2="302.50" y2="156.04" stroke="#3a3a3a" stroke-width="1.0"/>
<line x1="300.20" y1="153.16" x2="302.50" y2="153.16" stroke="#3a3a3a" stroke-width="1.0"/>
<line x1="300.20" y1="150.67" x2="302.50" y2="150.67" stroke="#3a3a3a" stroke-width="1.0"/>
<line x1="300.20" y1="148.47" x2="302.50" y2="148.47" stroke="#3a3a3a" stroke-width="1.0"/>
<line x1="299.20" y1="146.50" x2="302.50" y2="146.50" stroke="#6c6c6c" stroke-width="1.1"/>
<text x="298.10" y="149.24" font-size="7.6" text-anchor="end" fill="#111" font-weight="normal" stroke="#111" stroke-width="0.26" >1</text>
<line x1="300.20" y1="133.56" x2="302.50" y2="133.56" stroke="#3a3a3a" stroke-width="1.0"/>
<line x1="300.20" y1="125.98" x2="302.50" y2="125.98" stroke="#3a3a3a" stroke-width="1.0"/>
<line x1="300.20" y1="120.61" x2="302.50" y2="120.61" stroke="#3a3a3a" stroke-width="1.0"/>
<line x1="300.20" y1="116.44" x2="302.50" y2="116.44" stroke="#3a3a3a" stroke-width="1.0"/>
<line x1="300.20" y1="113.04" x2="302.50" y2="113.04" stroke="#3a3a3a" stroke-width="1.0"/>
<line x1="300.20" y1="110.16" x2="302.50" y2="110.16" stroke="#3a3a3a" stroke-width="1.0"/>
<line x1="300.20" y1="107.67" x2="302.50" y2="107.67" stroke="#3a3a3a" stroke-width="1.0"/>
<line x1="300.20" y1="105.47" x2="302.50" y2="105.47" stroke="#3a3a3a" stroke-width="1.0"/>
<line x1="299.20" y1="103.50" x2="302.50" y2="103.50" stroke="#6c6c6c" stroke-width="1.1"/>
<text x="298.10" y="106.24" font-size="7.6" text-anchor="end" fill="#111" font-weight="normal" stroke="#111" stroke-width="0.26" >10</text>
<line x1="300.20" y1="90.56" x2="302.50" y2="90.56" stroke="#3a3a3a" stroke-width="1.0"/>
<line x1="300.20" y1="82.98" x2="302.50" y2="82.98" stroke="#3a3a3a" stroke-width="1.0"/>
<line x1="300.20" y1="77.61" x2="302.50" y2="77.61" stroke="#3a3a3a" stroke-width="1.0"/>
<line x1="300.20" y1="73.44" x2="302.50" y2="73.44" stroke="#3a3a3a" stroke-width="1.0"/>
<line x1="300.20" y1="70.04" x2="302.50" y2="70.04" stroke="#3a3a3a" stroke-width="1.0"/>
<line x1="300.20" y1="67.16" x2="302.50" y2="67.16" stroke="#3a3a3a" stroke-width="1.0"/>
<line x1="300.20" y1="64.67" x2="302.50" y2="64.67" stroke="#3a3a3a" stroke-width="1.0"/>
<line x1="300.20" y1="62.47" x2="302.50" y2="62.47" stroke="#3a3a3a" stroke-width="1.0"/>
<line x1="299.20" y1="60.50" x2="302.50" y2="60.50" stroke="#6c6c6c" stroke-width="1.1"/>
<text x="298.10" y="63.24" font-size="7.6" text-anchor="end" fill="#111" font-weight="normal" stroke="#111" stroke-width="0.26" >100</text>
<line x1="300.20" y1="47.56" x2="302.50" y2="47.56" stroke="#3a3a3a" stroke-width="1.0"/>
<line x1="302.50" y1="189.00" x2="302.50" y2="192.30" stroke="#6c6c6c" stroke-width="1.1"/>
<text x="302.50" y="201.70" font-size="7.6" text-anchor="middle" fill="#111" font-weight="normal" stroke="#111" stroke-width="0.26" >0</text>
<line x1="323.29" y1="189.00" x2="323.29" y2="192.30" stroke="#6c6c6c" stroke-width="1.1"/>
<text x="323.29" y="201.70" font-size="7.6" text-anchor="middle" fill="#111" font-weight="normal" stroke="#111" stroke-width="0.26" >48</text>
<line x1="344.07" y1="189.00" x2="344.07" y2="192.30" stroke="#6c6c6c" stroke-width="1.1"/>
<text x="344.07" y="201.70" font-size="7.6" text-anchor="middle" fill="#111" font-weight="normal" stroke="#111" stroke-width="0.26" >96</text>
<line x1="364.86" y1="189.00" x2="364.86" y2="192.30" stroke="#6c6c6c" stroke-width="1.1"/>
<text x="364.86" y="201.70" font-size="7.6" text-anchor="middle" fill="#111" font-weight="normal" stroke="#111" stroke-width="0.26" >144</text>
<line x1="385.64" y1="189.00" x2="385.64" y2="192.30" stroke="#6c6c6c" stroke-width="1.1"/>
<text x="385.64" y="201.70" font-size="7.6" text-anchor="middle" fill="#111" font-weight="normal" stroke="#111" stroke-width="0.26" >192</text>
<line x1="406.43" y1="189.00" x2="406.43" y2="192.30" stroke="#6c6c6c" stroke-width="1.1"/>
<text x="406.43" y="201.70" font-size="7.6" text-anchor="middle" fill="#111" font-weight="normal" stroke="#111" stroke-width="0.26" >240</text>
<line x1="427.21" y1="189.00" x2="427.21" y2="192.30" stroke="#6c6c6c" stroke-width="1.1"/>
<text x="427.21" y="201.70" font-size="7.6" text-anchor="middle" fill="#111" font-weight="normal" stroke="#111" stroke-width="0.26" >288</text>
<line x1="448.00" y1="189.00" x2="448.00" y2="192.30" stroke="#6c6c6c" stroke-width="1.1"/>
<text x="448.00" y="201.70" font-size="7.6" text-anchor="middle" fill="#111" font-weight="normal" stroke="#111" stroke-width="0.26" >336</text>
<text x="375.20" y="214.00" font-size="7.75" text-anchor="middle" fill="#111" font-weight="normal" stroke="#111" stroke-width="0.26" >Time (hour)</text>
<text x="0.00" y="0.00" font-size="7.92" text-anchor="middle" fill="#111" font-weight="normal" stroke="#111" stroke-width="0.26" transform="translate(271.5,124.8) rotate(-90)">Day 15 plasma ixazomib concentration (ng/mL)</text>
<rect x="353" y="1" width="100" height="92.5" fill="#fff"/>
<path d="M352.30 73.60 L354.38 53.87 L356.45 52.50 L358.53 50.31 L360.61 52.50 L368.92 61.82 L385.53 66.83 L452.00 67.21" fill="none" stroke="#555555" stroke-width="0.9" stroke-linejoin="round"/>
<path d="M352.30 63.46 L354.38 55.24 L356.45 51.13 L358.53 52.50 L360.61 51.13 L368.92 59.71 L385.53 64.99 L452.00 68.12" fill="none" stroke="#b09aa4" stroke-width="0.9" stroke-linejoin="round"/>
<path d="M352.30 57.98 L354.38 49.76 L356.45 45.65 L358.53 44.83 L360.61 46.47 L368.92 49.76 L385.53 51.92 L452.00 54.66" fill="none" stroke="#a8b8b2" stroke-width="0.9" stroke-linejoin="round"/>
<path d="M352.30 55.24 L354.38 47.02 L356.45 42.91 L358.53 41.54 L360.61 42.91 L368.92 46.47 L385.53 48.55 L452.00 50.01" fill="none" stroke="#ecedb4" stroke-width="0.9" stroke-linejoin="round"/>
<path d="M352.30 49.76 L354.38 34.99 L356.45 31.51 L358.53 31.29 L360.61 33.05 L368.92 37.98 L385.53 42.75 L452.00 44.23" fill="none" stroke="#9aa8a4" stroke-width="0.9" stroke-linejoin="round"/>
<path d="M354.38 44.01 L356.45 44.01 L358.53 43.46 L360.61 43.40 L368.92 43.40 L385.53 39.38 L452.00 45.62" fill="none" stroke="#b4aac4" stroke-width="0.9" stroke-linejoin="round"/>
<path d="M352.30 29.21 L354.38 20.30 L356.45 15.21 L358.53 16.61 L360.61 17.98 L368.92 22.91 L385.53 26.61 L452.00 32.03" fill="none" stroke="#a6b4b0" stroke-width="0.9" stroke-linejoin="round"/>
<path d="M354.38 35.59 L356.45 6.91 L358.53 11.70 L360.61 15.21 L368.92 22.91 L385.53 26.61 L452.00 36.11" fill="none" stroke="#ecdcd4" stroke-width="0.9" stroke-linejoin="round"/>
<circle cx="352.30" cy="73.60" r="0.95" fill="#fff" stroke="#4a4a4a" stroke-width="0.7"/>
<circle cx="354.38" cy="53.87" r="0.95" fill="#fff" stroke="#4a4a4a" stroke-width="0.7"/>
<circle cx="356.45" cy="52.50" r="0.95" fill="#fff" stroke="#4a4a4a" stroke-width="0.7"/>
<circle cx="358.53" cy="50.31" r="0.95" fill="#fff" stroke="#4a4a4a" stroke-width="0.7"/>
<circle cx="360.61" cy="52.50" r="0.95" fill="#fff" stroke="#4a4a4a" stroke-width="0.7"/>
<circle cx="368.92" cy="61.82" r="0.95" fill="#fff" stroke="#4a4a4a" stroke-width="0.7"/>
<circle cx="385.53" cy="66.83" r="0.95" fill="#fff" stroke="#4a4a4a" stroke-width="0.7"/>
<circle cx="452.00" cy="67.21" r="0.95" fill="#fff" stroke="#4a4a4a" stroke-width="0.7"/>
<circle cx="352.30" cy="63.46" r="0.95" fill="#8a1c30" stroke="#8a1c30" stroke-width="0.7"/>
<circle cx="354.38" cy="55.24" r="0.95" fill="#8a1c30" stroke="#8a1c30" stroke-width="0.7"/>
<circle cx="356.45" cy="51.13" r="0.95" fill="#8a1c30" stroke="#8a1c30" stroke-width="0.7"/>
<circle cx="358.53" cy="52.50" r="0.95" fill="#8a1c30" stroke="#8a1c30" stroke-width="0.7"/>
<circle cx="360.61" cy="51.13" r="0.95" fill="#8a1c30" stroke="#8a1c30" stroke-width="0.7"/>
<circle cx="368.92" cy="59.71" r="0.95" fill="#8a1c30" stroke="#8a1c30" stroke-width="0.7"/>
<circle cx="385.53" cy="64.99" r="0.95" fill="#8a1c30" stroke="#8a1c30" stroke-width="0.7"/>
<circle cx="452.00" cy="68.12" r="0.95" fill="#8a1c30" stroke="#8a1c30" stroke-width="0.7"/>
<path d="M352.30 59.02L353.35 57.14L351.25 57.14Z" fill="#7a9a8c" stroke="#7a9a8c" stroke-width="0.7"/>
<path d="M354.38 50.80L355.42 48.92L353.33 48.92Z" fill="#7a9a8c" stroke="#7a9a8c" stroke-width="0.7"/>
<path d="M356.45 46.70L357.50 44.81L355.41 44.81Z" fill="#7a9a8c" stroke="#7a9a8c" stroke-width="0.7"/>
<path d="M358.53 45.87L359.58 43.99L357.49 43.99Z" fill="#7a9a8c" stroke="#7a9a8c" stroke-width="0.7"/>
<path d="M360.61 47.52L361.65 45.64L359.56 45.64Z" fill="#7a9a8c" stroke="#7a9a8c" stroke-width="0.7"/>
<path d="M368.92 50.80L369.96 48.92L367.87 48.92Z" fill="#7a9a8c" stroke="#7a9a8c" stroke-width="0.7"/>
<path d="M385.53 52.97L386.58 51.09L384.49 51.09Z" fill="#7a9a8c" stroke="#7a9a8c" stroke-width="0.7"/>
<path d="M452.00 55.71L453.05 53.83L450.95 53.83Z" fill="#7a9a8c" stroke="#7a9a8c" stroke-width="0.7"/>
<path d="M352.30 54.20L353.35 56.08L351.25 56.08Z" fill="#dcd460" stroke="#dcd460" stroke-width="0.7"/>
<path d="M354.38 45.97L355.42 47.86L353.33 47.86Z" fill="#dcd460" stroke="#dcd460" stroke-width="0.7"/>
<path d="M356.45 41.86L357.50 43.75L355.41 43.75Z" fill="#dcd460" stroke="#dcd460" stroke-width="0.7"/>
<path d="M358.53 40.49L359.58 42.38L357.49 42.38Z" fill="#dcd460" stroke="#dcd460" stroke-width="0.7"/>
<path d="M360.61 41.86L361.65 43.75L359.56 43.75Z" fill="#dcd460" stroke="#dcd460" stroke-width="0.7"/>
<path d="M368.92 45.43L369.96 47.31L367.87 47.31Z" fill="#dcd460" stroke="#dcd460" stroke-width="0.7"/>
<path d="M385.53 47.51L386.58 49.39L384.49 49.39Z" fill="#dcd460" stroke="#dcd460" stroke-width="0.7"/>
<path d="M452.00 48.96L453.05 50.84L450.95 50.84Z" fill="#dcd460" stroke="#dcd460" stroke-width="0.7"/>
<rect x="351.44" y="48.90" width="1.71" height="1.71" fill="#fff" stroke="#8c98a4" stroke-width="0.7"/>
<rect x="353.52" y="34.14" width="1.71" height="1.71" fill="#fff" stroke="#8c98a4" stroke-width="0.7"/>
<rect x="355.60" y="30.66" width="1.71" height="1.71" fill="#fff" stroke="#8c98a4" stroke-width="0.7"/>
<rect x="357.68" y="30.44" width="1.71" height="1.71" fill="#fff" stroke="#8c98a4" stroke-width="0.7"/>
<rect x="359.75" y="32.19" width="1.71" height="1.71" fill="#fff" stroke="#8c98a4" stroke-width="0.7"/>
<rect x="368.06" y="37.12" width="1.71" height="1.71" fill="#fff" stroke="#8c98a4" stroke-width="0.7"/>
<rect x="384.68" y="41.89" width="1.71" height="1.71" fill="#fff" stroke="#8c98a4" stroke-width="0.7"/>
<rect x="451.14" y="43.37" width="1.71" height="1.71" fill="#fff" stroke="#8c98a4" stroke-width="0.7"/>
<rect x="353.52" y="43.15" width="1.71" height="1.71" fill="#9a5a90" stroke="#9a5a90" stroke-width="0.7"/>
<rect x="355.60" y="43.15" width="1.71" height="1.71" fill="#9a5a90" stroke="#9a5a90" stroke-width="0.7"/>
<rect x="357.68" y="42.60" width="1.71" height="1.71" fill="#9a5a90" stroke="#9a5a90" stroke-width="0.7"/>
<rect x="359.75" y="42.55" width="1.71" height="1.71" fill="#9a5a90" stroke="#9a5a90" stroke-width="0.7"/>
<rect x="368.06" y="42.55" width="1.71" height="1.71" fill="#9a5a90" stroke="#9a5a90" stroke-width="0.7"/>
<rect x="384.68" y="38.52" width="1.71" height="1.71" fill="#9a5a90" stroke="#9a5a90" stroke-width="0.7"/>
<rect x="451.14" y="44.77" width="1.71" height="1.71" fill="#9a5a90" stroke="#9a5a90" stroke-width="0.7"/>
<path d="M352.30 28.12L353.39 29.21L352.30 30.30L351.21 29.21Z" fill="#fff" stroke="#8a9e98" stroke-width="0.7"/>
<path d="M354.38 19.21L355.47 20.30L354.38 21.40L353.28 20.30Z" fill="#fff" stroke="#8a9e98" stroke-width="0.7"/>
<path d="M356.45 14.12L357.55 15.21L356.45 16.30L355.36 15.21Z" fill="#fff" stroke="#8a9e98" stroke-width="0.7"/>
<path d="M358.53 15.51L359.62 16.61L358.53 17.70L357.44 16.61Z" fill="#fff" stroke="#8a9e98" stroke-width="0.7"/>
<path d="M360.61 16.88L361.70 17.98L360.61 19.07L359.52 17.98Z" fill="#fff" stroke="#8a9e98" stroke-width="0.7"/>
<path d="M368.92 21.82L370.01 22.91L368.92 24.00L367.82 22.91Z" fill="#fff" stroke="#8a9e98" stroke-width="0.7"/>
<path d="M385.53 25.51L386.63 26.61L385.53 27.70L384.44 26.61Z" fill="#fff" stroke="#8a9e98" stroke-width="0.7"/>
<path d="M452.00 30.94L453.09 32.03L452.00 33.12L450.91 32.03Z" fill="#fff" stroke="#8a9e98" stroke-width="0.7"/>
<path d="M354.38 34.50L355.47 35.59L354.38 36.69L353.28 35.59Z" fill="#b88068" stroke="#b88068" stroke-width="0.7"/>
<path d="M356.45 5.81L357.55 6.91L356.45 8.00L355.36 6.91Z" fill="#b88068" stroke="#b88068" stroke-width="0.7"/>
<path d="M358.53 10.61L359.62 11.70L358.53 12.79L357.44 11.70Z" fill="#b88068" stroke="#b88068" stroke-width="0.7"/>
<path d="M360.61 14.12L361.70 15.21L360.61 16.30L359.52 15.21Z" fill="#b88068" stroke="#b88068" stroke-width="0.7"/>
<path d="M368.92 21.82L370.01 22.91L368.92 24.00L367.82 22.91Z" fill="#b88068" stroke="#b88068" stroke-width="0.7"/>
<path d="M385.53 25.51L386.63 26.61L385.53 27.70L384.44 26.61Z" fill="#b88068" stroke="#b88068" stroke-width="0.7"/>
<path d="M452.00 35.02L453.09 36.11L452.00 37.21L450.91 36.11Z" fill="#b88068" stroke="#b88068" stroke-width="0.7"/>
<line x1="352.30" y1="1.50" x2="352.30" y2="94.75" stroke="#6c6c6c" stroke-width="1.1"/>
<line x1="349.50" y1="94.20" x2="452.60" y2="94.20" stroke="#6c6c6c" stroke-width="1.1"/>
<line x1="349.50" y1="93.60" x2="352.30" y2="93.60" stroke="#6c6c6c" stroke-width="1.1"/>
<text x="348.10" y="95.98" font-size="6.6" text-anchor="end" fill="#111" font-weight="normal" stroke="#111" stroke-width="0.26" >0.1</text>
<line x1="349.90" y1="85.35" x2="352.30" y2="85.35" stroke="#3a3a3a" stroke-width="1.0"/>
<line x1="349.90" y1="80.53" x2="352.30" y2="80.53" stroke="#3a3a3a" stroke-width="1.0"/>
<line x1="349.90" y1="77.10" x2="352.30" y2="77.10" stroke="#3a3a3a" stroke-width="1.0"/>
<line x1="349.90" y1="74.45" x2="352.30" y2="74.45" stroke="#3a3a3a" stroke-width="1.0"/>
<line x1="349.90" y1="72.28" x2="352.30" y2="72.28" stroke="#3a3a3a" stroke-width="1.0"/>
<line x1="349.90" y1="70.44" x2="352.30" y2="70.44" stroke="#3a3a3a" stroke-width="1.0"/>
<line x1="349.90" y1="68.86" x2="352.30" y2="68.86" stroke="#3a3a3a" stroke-width="1.0"/>
<line x1="349.90" y1="67.45" x2="352.30" y2="67.45" stroke="#3a3a3a" stroke-width="1.0"/>
<line x1="349.50" y1="66.20" x2="352.30" y2="66.20" stroke="#6c6c6c" stroke-width="1.1"/>
<text x="348.10" y="68.58" font-size="6.6" text-anchor="end" fill="#111" font-weight="normal" stroke="#111" stroke-width="0.26" >1</text>
<line x1="349.90" y1="57.95" x2="352.30" y2="57.95" stroke="#3a3a3a" stroke-width="1.0"/>
<line x1="349.90" y1="53.13" x2="352.30" y2="53.13" stroke="#3a3a3a" stroke-width="1.0"/>
<line x1="349.90" y1="49.70" x2="352.30" y2="49.70" stroke="#3a3a3a" stroke-width="1.0"/>
<line x1="349.90" y1="47.05" x2="352.30" y2="47.05" stroke="#3a3a3a" stroke-width="1.0"/>
<line x1="349.90" y1="44.88" x2="352.30" y2="44.88" stroke="#3a3a3a" stroke-width="1.0"/>
<line x1="349.90" y1="43.04" x2="352.30" y2="43.04" stroke="#3a3a3a" stroke-width="1.0"/>
<line x1="349.90" y1="41.46" x2="352.30" y2="41.46" stroke="#3a3a3a" stroke-width="1.0"/>
<line x1="349.90" y1="40.05" x2="352.30" y2="40.05" stroke="#3a3a3a" stroke-width="1.0"/>
<line x1="349.50" y1="38.80" x2="352.30" y2="38.80" stroke="#6c6c6c" stroke-width="1.1"/>
<text x="348.10" y="41.18" font-size="6.6" text-anchor="end" fill="#111" font-weight="normal" stroke="#111" stroke-width="0.26" >10</text>
<line x1="349.90" y1="30.55" x2="352.30" y2="30.55" stroke="#3a3a3a" stroke-width="1.0"/>
<line x1="349.90" y1="25.73" x2="352.30" y2="25.73" stroke="#3a3a3a" stroke-width="1.0"/>
<line x1="349.90" y1="22.30" x2="352.30" y2="22.30" stroke="#3a3a3a" stroke-width="1.0"/>
<line x1="349.90" y1="19.65" x2="352.30" y2="19.65" stroke="#3a3a3a" stroke-width="1.0"/>
<line x1="349.90" y1="17.48" x2="352.30" y2="17.48" stroke="#3a3a3a" stroke-width="1.0"/>
<line x1="349.90" y1="15.64" x2="352.30" y2="15.64" stroke="#3a3a3a" stroke-width="1.0"/>
<line x1="349.90" y1="14.06" x2="352.30" y2="14.06" stroke="#3a3a3a" stroke-width="1.0"/>
<line x1="349.90" y1="12.65" x2="352.30" y2="12.65" stroke="#3a3a3a" stroke-width="1.0"/>
<line x1="349.50" y1="11.40" x2="352.30" y2="11.40" stroke="#6c6c6c" stroke-width="1.1"/>
<text x="348.10" y="13.78" font-size="6.6" text-anchor="end" fill="#111" font-weight="normal" stroke="#111" stroke-width="0.26" >100</text>
<line x1="349.90" y1="3.15" x2="352.30" y2="3.15" stroke="#3a3a3a" stroke-width="1.0"/>
<line x1="352.30" y1="94.20" x2="352.30" y2="97.00" stroke="#6c6c6c" stroke-width="1.1"/>
<text x="352.30" y="105.10" font-size="6.6" text-anchor="middle" fill="#111" font-weight="normal" stroke="#111" stroke-width="0.26" >0</text>
<line x1="368.92" y1="94.20" x2="368.92" y2="97.00" stroke="#6c6c6c" stroke-width="1.1"/>
<text x="368.92" y="105.10" font-size="6.6" text-anchor="middle" fill="#111" font-weight="normal" stroke="#111" stroke-width="0.26" >4</text>
<line x1="385.53" y1="94.20" x2="385.53" y2="97.00" stroke="#6c6c6c" stroke-width="1.1"/>
<text x="385.53" y="105.10" font-size="6.6" text-anchor="middle" fill="#111" font-weight="normal" stroke="#111" stroke-width="0.26" >8</text>
<line x1="402.15" y1="94.20" x2="402.15" y2="97.00" stroke="#6c6c6c" stroke-width="1.1"/>
<text x="402.15" y="105.10" font-size="6.6" text-anchor="middle" fill="#111" font-weight="normal" stroke="#111" stroke-width="0.26" >12</text>
<line x1="418.77" y1="94.20" x2="418.77" y2="97.00" stroke="#6c6c6c" stroke-width="1.1"/>
<text x="418.77" y="105.10" font-size="6.6" text-anchor="middle" fill="#111" font-weight="normal" stroke="#111" stroke-width="0.26" >16</text>
<line x1="435.38" y1="94.20" x2="435.38" y2="97.00" stroke="#6c6c6c" stroke-width="1.1"/>
<text x="435.38" y="105.10" font-size="6.6" text-anchor="middle" fill="#111" font-weight="normal" stroke="#111" stroke-width="0.26" >20</text>
<line x1="452.00" y1="94.20" x2="452.00" y2="97.00" stroke="#6c6c6c" stroke-width="1.1"/>
<text x="452.00" y="105.10" font-size="6.6" text-anchor="middle" fill="#111" font-weight="normal" stroke="#111" stroke-width="0.26" >24</text>
<line x1="455.50" y1="125.80" x2="467.70" y2="125.80" stroke="#555555" stroke-width="0.9"/>
<circle cx="461.50" cy="125.80" r="1.45" fill="#fff" stroke="#4a4a4a" stroke-width="0.7"/>
<text x="471.00" y="127.85" font-size="5.7" fill="#222" stroke="#222" stroke-width="0.2">0.24 mg/m<tspan font-size="2.85" dy="-2.17">2</tspan><tspan dy="2.17"> (n = 3)</tspan></text>
<line x1="455.50" y1="133.13" x2="467.70" y2="133.13" stroke="#aa6070" stroke-width="0.9"/>
<circle cx="461.50" cy="133.13" r="1.45" fill="#8a1c30" stroke="#8a1c30" stroke-width="0.7"/>
<text x="471.00" y="135.18" font-size="5.7" fill="#222" stroke="#222" stroke-width="0.2">0.48 mg/m<tspan font-size="2.85" dy="-2.17">2</tspan><tspan dy="2.17"> (n = 1)</tspan></text>
<line x1="455.50" y1="140.46" x2="467.70" y2="140.46" stroke="#8eaca0" stroke-width="0.9"/>
<path d="M461.50 142.06L463.10 139.18L459.90 139.18Z" fill="#5a8c78" stroke="#5a8c78" stroke-width="0.7"/>
<text x="471.00" y="142.51" font-size="5.7" fill="#222" stroke="#222" stroke-width="0.2">0.80 mg/m<tspan font-size="2.85" dy="-2.17">2</tspan><tspan dy="2.17"> (n = 3)</tspan></text>
<line x1="455.50" y1="147.79" x2="467.70" y2="147.79" stroke="#ebe8b0" stroke-width="0.9"/>
<path d="M461.50 146.19L463.10 149.07L459.90 149.07Z" fill="#dcd460" stroke="#dcd460" stroke-width="0.7"/>
<text x="471.00" y="149.84" font-size="5.7" fill="#222" stroke="#222" stroke-width="0.2">1.20 mg/m<tspan font-size="2.85" dy="-2.17">2</tspan><tspan dy="2.17"> (n = 2)</tspan></text>
<line x1="455.50" y1="155.12" x2="467.70" y2="155.12" stroke="#8f9ac4" stroke-width="0.9"/>
<rect x="460.19" y="153.81" width="2.61" height="2.61" fill="#fff" stroke="#7f88c4" stroke-width="0.7"/>
<text x="471.00" y="157.17" font-size="5.7" fill="#222" stroke="#222" stroke-width="0.2">1.68 mg/m<tspan font-size="2.85" dy="-2.17">2</tspan><tspan dy="2.17"> (n = 2)</tspan></text>
<line x1="455.50" y1="162.45" x2="467.70" y2="162.45" stroke="#c898b4" stroke-width="0.9"/>
<rect x="460.19" y="161.14" width="2.61" height="2.61" fill="#94508a" stroke="#94508a" stroke-width="0.7"/>
<text x="471.00" y="164.50" font-size="5.7" fill="#222" stroke="#222" stroke-width="0.2">2.23 mg/m<tspan font-size="2.85" dy="-2.17">2</tspan><tspan dy="2.17"> (n = 1)</tspan></text>
<line x1="455.50" y1="169.78" x2="467.70" y2="169.78" stroke="#8fb0bc" stroke-width="0.9"/>
<path d="M461.50 168.11L463.17 169.78L461.50 171.45L459.83 169.78Z" fill="#fff" stroke="#7aa0ac" stroke-width="0.7"/>
<text x="471.00" y="171.83" font-size="5.7" fill="#222" stroke="#222" stroke-width="0.2">2.97 mg/m<tspan font-size="2.85" dy="-2.17">2</tspan><tspan dy="2.17"> (n = 17)</tspan></text>
<line x1="455.50" y1="177.11" x2="467.70" y2="177.11" stroke="#e6b0a0" stroke-width="0.9"/>
<path d="M461.50 175.44L463.17 177.11L461.50 178.78L459.83 177.11Z" fill="#c48a6c" stroke="#c48a6c" stroke-width="0.7"/>
<text x="471.00" y="179.16" font-size="5.7" fill="#222" stroke="#222" stroke-width="0.2">3.95 mg/m<tspan font-size="2.85" dy="-2.17">2</tspan><tspan dy="2.17"> (n = 1)</tspan></text>
<line x1="32.00" y1="230.00" x2="32.00" y2="367.35" stroke="#6c6c6c" stroke-width="1.1"/>
<line x1="29.00" y1="366.80" x2="196.00" y2="366.80" stroke="#6c6c6c" stroke-width="1.1"/>
<line x1="29.00" y1="366.80" x2="32.00" y2="366.80" stroke="#6c6c6c" stroke-width="1.1"/>
<text x="27.70" y="369.50" font-size="7.5" text-anchor="end" fill="#111" font-weight="normal" stroke="#111" stroke-width="0.26" >0</text>
<line x1="29.00" y1="352.47" x2="32.00" y2="352.47" stroke="#6c6c6c" stroke-width="1.1"/>
<text x="27.70" y="355.17" font-size="7.5" text-anchor="end" fill="#111" font-weight="normal" stroke="#111" stroke-width="0.26" >25</text>
<line x1="29.00" y1="338.13" x2="32.00" y2="338.13" stroke="#6c6c6c" stroke-width="1.1"/>
<text x="27.70" y="340.83" font-size="7.5" text-anchor="end" fill="#111" font-weight="normal" stroke="#111" stroke-width="0.26" >50</text>
<line x1="29.00" y1="323.80" x2="32.00" y2="323.80" stroke="#6c6c6c" stroke-width="1.1"/>
<text x="27.70" y="326.50" font-size="7.5" text-anchor="end" fill="#111" font-weight="normal" stroke="#111" stroke-width="0.26" >75</text>
<line x1="29.00" y1="309.47" x2="32.00" y2="309.47" stroke="#6c6c6c" stroke-width="1.1"/>
<text x="27.70" y="312.17" font-size="7.5" text-anchor="end" fill="#111" font-weight="normal" stroke="#111" stroke-width="0.26" >100</text>
<line x1="29.00" y1="295.13" x2="32.00" y2="295.13" stroke="#6c6c6c" stroke-width="1.1"/>
<text x="27.70" y="297.83" font-size="7.5" text-anchor="end" fill="#111" font-weight="normal" stroke="#111" stroke-width="0.26" >125</text>
<line x1="29.00" y1="280.80" x2="32.00" y2="280.80" stroke="#6c6c6c" stroke-width="1.1"/>
<text x="27.70" y="283.50" font-size="7.5" text-anchor="end" fill="#111" font-weight="normal" stroke="#111" stroke-width="0.26" >150</text>
<line x1="29.00" y1="266.47" x2="32.00" y2="266.47" stroke="#6c6c6c" stroke-width="1.1"/>
<text x="27.70" y="269.17" font-size="7.5" text-anchor="end" fill="#111" font-weight="normal" stroke="#111" stroke-width="0.26" >175</text>
<line x1="29.00" y1="252.13" x2="32.00" y2="252.13" stroke="#6c6c6c" stroke-width="1.1"/>
<text x="27.70" y="254.83" font-size="7.5" text-anchor="end" fill="#111" font-weight="normal" stroke="#111" stroke-width="0.26" >175</text>
<line x1="29.00" y1="237.80" x2="32.00" y2="237.80" stroke="#6c6c6c" stroke-width="1.1"/>
<text x="27.70" y="240.50" font-size="7.5" text-anchor="end" fill="#111" font-weight="normal" stroke="#111" stroke-width="0.26" >225</text>
<text x="32.00" y="380.10" font-size="7.5" text-anchor="middle" fill="#111" font-weight="normal" stroke="#111" stroke-width="0.26" >0</text>
<line x1="52.00" y1="366.80" x2="52.00" y2="369.80" stroke="#6c6c6c" stroke-width="1.1"/>
<text x="52.00" y="380.10" font-size="7.5" text-anchor="middle" fill="#111" font-weight="normal" stroke="#111" stroke-width="0.26" >0.24</text>
<line x1="70.00" y1="366.80" x2="70.00" y2="369.80" stroke="#6c6c6c" stroke-width="1.1"/>
<text x="70.00" y="380.10" font-size="7.5" text-anchor="middle" fill="#111" font-weight="normal" stroke="#111" stroke-width="0.26" >0.48</text>
<line x1="88.00" y1="366.80" x2="88.00" y2="369.80" stroke="#6c6c6c" stroke-width="1.1"/>
<text x="88.00" y="380.10" font-size="7.5" text-anchor="middle" fill="#111" font-weight="normal" stroke="#111" stroke-width="0.26" >0.8</text>
<line x1="106.00" y1="366.80" x2="106.00" y2="369.80" stroke="#6c6c6c" stroke-width="1.1"/>
<text x="106.00" y="380.10" font-size="7.5" text-anchor="middle" fill="#111" font-weight="normal" stroke="#111" stroke-width="0.26" >1.2</text>
<line x1="124.00" y1="366.80" x2="124.00" y2="369.80" stroke="#6c6c6c" stroke-width="1.1"/>
<text x="124.00" y="380.10" font-size="7.5" text-anchor="middle" fill="#111" font-weight="normal" stroke="#111" stroke-width="0.26" >1.68</text>
<line x1="142.00" y1="366.80" x2="142.00" y2="369.80" stroke="#6c6c6c" stroke-width="1.1"/>
<text x="142.00" y="380.10" font-size="7.5" text-anchor="middle" fill="#111" font-weight="normal" stroke="#111" stroke-width="0.26" >2.23</text>
<line x1="160.00" y1="366.80" x2="160.00" y2="369.80" stroke="#6c6c6c" stroke-width="1.1"/>
<text x="160.00" y="380.10" font-size="7.5" text-anchor="middle" fill="#111" font-weight="normal" stroke="#111" stroke-width="0.26" >2.97</text>
<line x1="178.00" y1="366.80" x2="178.00" y2="369.80" stroke="#6c6c6c" stroke-width="1.1"/>
<text x="178.00" y="380.10" font-size="7.5" text-anchor="middle" fill="#111" font-weight="normal" stroke="#111" stroke-width="0.26" >3.95</text>
<text x="37.20" y="240.10" font-size="7.8" text-anchor="start" fill="#c0424c" font-weight="normal" stroke="#c0424c" stroke-width="0.1" >Day 1</text>
<text x="37.20" y="249.20" font-size="7.8" text-anchor="start" fill="#3e4a8c" font-weight="normal" stroke="#3e4a8c" stroke-width="0.1" >Day 15</text>
<text x="105.4" y="392.4" font-size="7.75" text-anchor="middle" fill="#111" stroke="#111" stroke-width="0.26">Dose (mg/m<tspan font-size="4.8" dy="-2.9">2</tspan><tspan dy="2.9">)</tspan></text>
<text transform="translate(6.0,302.5) rotate(-90)" font-size="7.85" text-anchor="middle" fill="#111" stroke="#111" stroke-width="0.26">Ixazomib C<tspan font-size="5.1" dy="2.2">max</tspan><tspan dy="-2.2"> (ng/mL)</tspan></text>
<line x1="157.90" y1="287.30" x2="157.90" y2="346.70" stroke="#d09aa0" stroke-width="1.2"/><line x1="156.60" y1="287.30" x2="159.20" y2="287.30" stroke="#d09aa0" stroke-width="1.2"/><line x1="156.60" y1="346.70" x2="159.20" y2="346.70" stroke="#d09aa0" stroke-width="1.2"/>
<line x1="162.00" y1="292.60" x2="162.00" y2="348.60" stroke="#8c96bc" stroke-width="1.2"/><line x1="160.70" y1="292.60" x2="163.30" y2="292.60" stroke="#8c96bc" stroke-width="1.2"/><line x1="160.70" y1="348.60" x2="163.30" y2="348.60" stroke="#8c96bc" stroke-width="1.2"/>
<line x1="176.10" y1="250.20" x2="176.10" y2="340.70" stroke="#d09aa0" stroke-width="1.2"/><line x1="174.80" y1="250.20" x2="177.40" y2="250.20" stroke="#d09aa0" stroke-width="1.2"/><line x1="174.80" y1="340.70" x2="177.40" y2="340.70" stroke="#d09aa0" stroke-width="1.2"/>
<line x1="122.00" y1="353.50" x2="122.00" y2="364.40" stroke="#d09aa0" stroke-width="1.2"/><line x1="120.70" y1="353.50" x2="123.30" y2="353.50" stroke="#d09aa0" stroke-width="1.2"/><line x1="120.70" y1="364.40" x2="123.30" y2="364.40" stroke="#d09aa0" stroke-width="1.2"/>
<line x1="90.20" y1="359.70" x2="90.20" y2="366.20" stroke="#8c96bc" stroke-width="1.2"/><line x1="88.90" y1="359.70" x2="91.50" y2="359.70" stroke="#8c96bc" stroke-width="1.2"/><line x1="88.90" y1="366.20" x2="91.50" y2="366.20" stroke="#8c96bc" stroke-width="1.2"/>
<circle cx="49.90" cy="365.10" r="1.55" fill="#9a2228"/>
<circle cx="67.80" cy="365.10" r="1.55" fill="#9a2228"/>
<circle cx="85.80" cy="361.60" r="1.55" fill="#9a2228"/>
<circle cx="85.80" cy="365.90" r="1.55" fill="#9a2228"/>
<circle cx="103.90" cy="358.20" r="1.55" fill="#9a2228"/>
<circle cx="121.90" cy="358.70" r="1.55" fill="#9a2228"/>
<circle cx="139.90" cy="345.70" r="1.55" fill="#9a2228"/>
<circle cx="139.90" cy="354.60" r="1.55" fill="#9a2228"/>
<circle cx="157.70" cy="317.70" r="1.55" fill="#9a2228"/>
<circle cx="176.20" cy="295.30" r="1.55" fill="#9a2228"/>
<circle cx="53.90" cy="364.80" r="1.55" fill="#18206a"/>
<circle cx="72.10" cy="363.70" r="1.55" fill="#18206a"/>
<circle cx="90.20" cy="363.00" r="1.55" fill="#18206a"/>
<circle cx="107.90" cy="352.90" r="1.55" fill="#18206a"/>
<circle cx="107.90" cy="360.10" r="1.55" fill="#18206a"/>
<circle cx="125.80" cy="351.50" r="1.55" fill="#18206a"/>
<circle cx="125.80" cy="362.10" r="1.55" fill="#18206a"/>
<circle cx="143.70" cy="361.20" r="1.55" fill="#18206a"/>
<circle cx="161.70" cy="321.10" r="1.55" fill="#18206a"/>
<circle cx="180.30" cy="290.30" r="1.55" fill="#18206a"/>
<text x="52.30" y="359.30" font-size="6.75" text-anchor="middle" fill="#525c98" font-weight="normal" stroke="#525c98" stroke-width="0.12" >(N = 3)</text>
<text x="91.20" y="356.00" font-size="6.75" text-anchor="middle" fill="#525c98" font-weight="normal" stroke="#525c98" stroke-width="0.12" >(N = 3)</text>
<text x="123.10" y="348.50" font-size="6.75" text-anchor="middle" fill="#c2555c" font-weight="normal" stroke="#c2555c" stroke-width="0.12" >(N = 3)</text>
<text x="162.00" y="271.20" font-size="6.75" text-anchor="middle" fill="#525c98" font-weight="normal" stroke="#525c98" stroke-width="0.12" >(N = 17)</text>
<text x="157.30" y="281.80" font-size="6.75" text-anchor="middle" fill="#c2555c" font-weight="normal" stroke="#c2555c" stroke-width="0.12" >(N = 24)</text>
<text x="176.20" y="245.20" font-size="6.75" text-anchor="middle" fill="#c2555c" font-weight="normal" stroke="#c2555c" stroke-width="0.12" >(N = 4)</text>
<line x1="302.60" y1="230.00" x2="302.60" y2="367.15" stroke="#6c6c6c" stroke-width="1.1"/>
<line x1="299.60" y1="366.60" x2="467.20" y2="366.60" stroke="#6c6c6c" stroke-width="1.1"/>
<line x1="299.60" y1="366.60" x2="302.60" y2="366.60" stroke="#6c6c6c" stroke-width="1.1"/>
<text x="298.30" y="369.30" font-size="7.5" text-anchor="end" fill="#111" font-weight="normal" stroke="#111" stroke-width="0.26" >0</text>
<line x1="299.60" y1="345.13" x2="302.60" y2="345.13" stroke="#6c6c6c" stroke-width="1.1"/>
<text x="298.30" y="347.83" font-size="7.5" text-anchor="end" fill="#111" font-weight="normal" stroke="#111" stroke-width="0.26" >500</text>
<line x1="299.60" y1="323.67" x2="302.60" y2="323.67" stroke="#6c6c6c" stroke-width="1.1"/>
<text x="298.30" y="326.37" font-size="7.5" text-anchor="end" fill="#111" font-weight="normal" stroke="#111" stroke-width="0.26" >1000</text>
<line x1="299.60" y1="302.20" x2="302.60" y2="302.20" stroke="#6c6c6c" stroke-width="1.1"/>
<text x="298.30" y="304.90" font-size="7.5" text-anchor="end" fill="#111" font-weight="normal" stroke="#111" stroke-width="0.26" >1500</text>
<line x1="299.60" y1="280.73" x2="302.60" y2="280.73" stroke="#6c6c6c" stroke-width="1.1"/>
<text x="298.30" y="283.43" font-size="7.5" text-anchor="end" fill="#111" font-weight="normal" stroke="#111" stroke-width="0.26" >2000</text>
<line x1="299.60" y1="259.27" x2="302.60" y2="259.27" stroke="#6c6c6c" stroke-width="1.1"/>
<text x="298.30" y="261.97" font-size="7.5" text-anchor="end" fill="#111" font-weight="normal" stroke="#111" stroke-width="0.26" >2500</text>
<line x1="299.60" y1="237.80" x2="302.60" y2="237.80" stroke="#6c6c6c" stroke-width="1.1"/>
<text x="298.30" y="240.50" font-size="7.5" text-anchor="end" fill="#111" font-weight="normal" stroke="#111" stroke-width="0.26" >3000</text>
<text x="302.60" y="379.90" font-size="7.5" text-anchor="middle" fill="#111" font-weight="normal" stroke="#111" stroke-width="0.26" >0</text>
<line x1="322.60" y1="366.60" x2="322.60" y2="369.60" stroke="#6c6c6c" stroke-width="1.1"/>
<text x="322.60" y="379.90" font-size="7.5" text-anchor="middle" fill="#111" font-weight="normal" stroke="#111" stroke-width="0.26" >0.24</text>
<line x1="340.60" y1="366.60" x2="340.60" y2="369.60" stroke="#6c6c6c" stroke-width="1.1"/>
<text x="340.60" y="379.90" font-size="7.5" text-anchor="middle" fill="#111" font-weight="normal" stroke="#111" stroke-width="0.26" >0.48</text>
<line x1="358.60" y1="366.60" x2="358.60" y2="369.60" stroke="#6c6c6c" stroke-width="1.1"/>
<text x="358.60" y="379.90" font-size="7.5" text-anchor="middle" fill="#111" font-weight="normal" stroke="#111" stroke-width="0.26" >0.8</text>
<line x1="376.60" y1="366.60" x2="376.60" y2="369.60" stroke="#6c6c6c" stroke-width="1.1"/>
<text x="376.60" y="379.90" font-size="7.5" text-anchor="middle" fill="#111" font-weight="normal" stroke="#111" stroke-width="0.26" >1.2</text>
<line x1="394.60" y1="366.60" x2="394.60" y2="369.60" stroke="#6c6c6c" stroke-width="1.1"/>
<text x="394.60" y="379.90" font-size="7.5" text-anchor="middle" fill="#111" font-weight="normal" stroke="#111" stroke-width="0.26" >1.68</text>
<line x1="412.60" y1="366.60" x2="412.60" y2="369.60" stroke="#6c6c6c" stroke-width="1.1"/>
<text x="412.60" y="379.90" font-size="7.5" text-anchor="middle" fill="#111" font-weight="normal" stroke="#111" stroke-width="0.26" >2.23</text>
<line x1="430.60" y1="366.60" x2="430.60" y2="369.60" stroke="#6c6c6c" stroke-width="1.1"/>
<text x="430.60" y="379.90" font-size="7.5" text-anchor="middle" fill="#111" font-weight="normal" stroke="#111" stroke-width="0.26" >2.97</text>
<line x1="448.60" y1="366.60" x2="448.60" y2="369.60" stroke="#6c6c6c" stroke-width="1.1"/>
<text x="448.60" y="379.90" font-size="7.5" text-anchor="middle" fill="#111" font-weight="normal" stroke="#111" stroke-width="0.26" >3.95</text>
<text x="308.30" y="240.10" font-size="7.8" text-anchor="start" fill="#c0424c" font-weight="normal" stroke="#c0424c" stroke-width="0.1" >Day 1</text>
<text x="308.30" y="249.20" font-size="7.8" text-anchor="start" fill="#3e4a8c" font-weight="normal" stroke="#3e4a8c" stroke-width="0.1" >Day 15</text>
<text x="376" y="392.4" font-size="7.75" text-anchor="middle" fill="#111" stroke="#111" stroke-width="0.26">Dose (mg/m<tspan font-size="4.8" dy="-2.9">2</tspan><tspan dy="2.9">)</tspan></text>
<text transform="translate(271.2,302.1) rotate(-90)" font-size="7.85" text-anchor="middle" fill="#111" stroke="#111" stroke-width="0.26">Ixazomib AUC<tspan font-size="4.5" dy="2.1" stroke-width="0.1">0-168hr</tspan><tspan dy="-2.1"> (ng/mL*hr)</tspan></text>
<line x1="433.30" y1="237.90" x2="433.30" y2="326.70" stroke="#8c96bc" stroke-width="1.2"/><line x1="432.00" y1="237.90" x2="434.60" y2="237.90" stroke="#8c96bc" stroke-width="1.2"/><line x1="432.00" y1="326.70" x2="434.60" y2="326.70" stroke="#8c96bc" stroke-width="1.2"/>
<line x1="429.00" y1="301.20" x2="429.00" y2="344.40" stroke="#d09aa0" stroke-width="1.2"/><line x1="427.70" y1="301.20" x2="430.30" y2="301.20" stroke="#d09aa0" stroke-width="1.2"/><line x1="427.70" y1="344.40" x2="430.30" y2="344.40" stroke="#d09aa0" stroke-width="1.2"/>
<line x1="447.20" y1="276.90" x2="447.20" y2="339.20" stroke="#d09aa0" stroke-width="1.2"/><line x1="445.90" y1="276.90" x2="448.50" y2="276.90" stroke="#d09aa0" stroke-width="1.2"/><line x1="445.90" y1="339.20" x2="448.50" y2="339.20" stroke="#d09aa0" stroke-width="1.2"/>
<circle cx="392.50" cy="352.60" r="1.55" fill="#9a2228"/>
<circle cx="392.50" cy="358.70" r="1.55" fill="#9a2228"/>
<circle cx="410.20" cy="341.00" r="1.55" fill="#9a2228"/>
<circle cx="429.00" cy="323.00" r="1.55" fill="#9a2228"/>
<circle cx="447.20" cy="307.70" r="1.55" fill="#9a2228"/>
<circle cx="360.90" cy="347.30" r="1.55" fill="#18206a"/>
<circle cx="360.90" cy="350.60" r="1.55" fill="#18206a"/>
<circle cx="397.30" cy="334.30" r="1.55" fill="#18206a"/>
<circle cx="397.30" cy="342.30" r="1.55" fill="#18206a"/>
<circle cx="415.20" cy="329.30" r="1.55" fill="#18206a"/>
<circle cx="433.30" cy="282.60" r="1.55" fill="#18206a"/>
<circle cx="451.30" cy="303.60" r="1.55" fill="#18206a"/>
<text x="433.50" y="233.60" font-size="6.75" text-anchor="middle" fill="#525c98" font-weight="normal" stroke="#525c98" stroke-width="0.12" >(N = 10)</text>
<text x="447.50" y="271.20" font-size="6.75" text-anchor="middle" fill="#c2555c" font-weight="normal" stroke="#c2555c" stroke-width="0.12" >(N = 4)</text>
<text x="419.50" y="298.90" font-size="6.75" text-anchor="middle" fill="#c2555c" font-weight="normal" stroke="#c2555c" stroke-width="0.12" >(N = 17)</text>
</svg>
</body></html>
